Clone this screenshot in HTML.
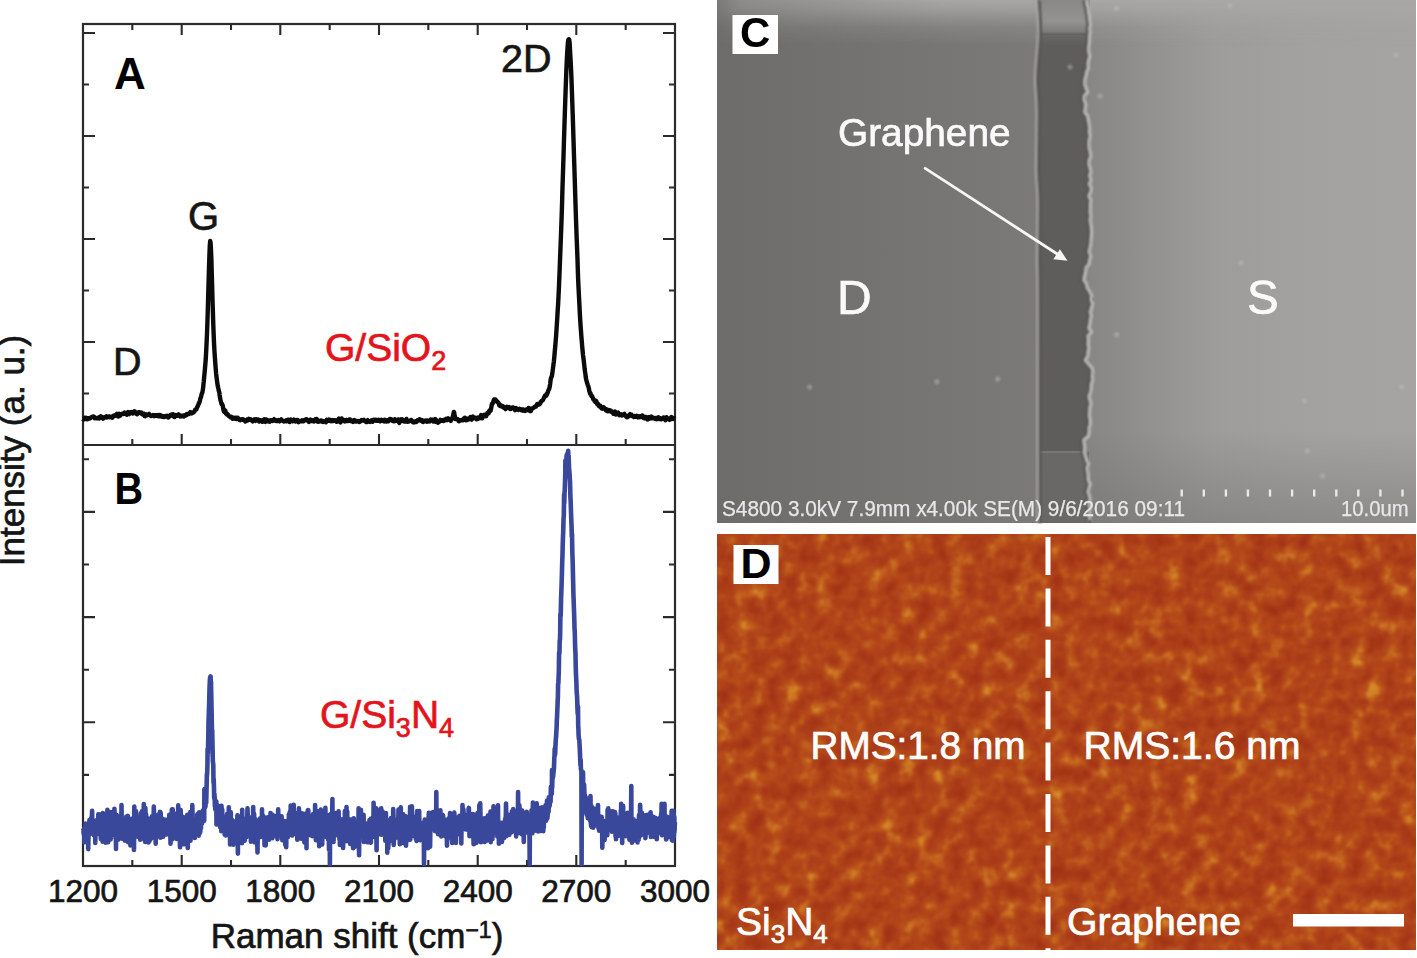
<!DOCTYPE html>
<html><head><meta charset="utf-8">
<style>
html,body{margin:0;padding:0;background:#fff;}
body{width:1417px;height:958px;overflow:hidden;position:relative;}
svg{position:absolute;left:0;top:0;}
text{font-family:"Liberation Sans",sans-serif;}
</style></head><body>
<svg width="1417" height="958" viewBox="0 0 1417 958">
<defs>
<linearGradient id="gD" x1="717" x2="1039" y1="0" y2="0" gradientUnits="userSpaceOnUse">
<stop offset="0" stop-color="#6d6c6a"/><stop offset="1" stop-color="#7c7a79"/></linearGradient>
<linearGradient id="gS" x1="1075" x2="1416" y1="0" y2="0" gradientUnits="userSpaceOnUse">
<stop offset="0" stop-color="#858482"/><stop offset="0.4" stop-color="#9d9c9a"/><stop offset="0.7" stop-color="#a3a2a0"/><stop offset="1" stop-color="#a5a4a2"/></linearGradient>
<linearGradient id="gTop" x1="0" x2="0" y1="0" y2="46" gradientUnits="userSpaceOnUse">
<stop offset="0" stop-color="#a8a7a5" stop-opacity="1"/><stop offset="0.2" stop-color="#a8a7a5" stop-opacity="0.8"/><stop offset="0.6" stop-color="#a6a5a3" stop-opacity="0.25"/><stop offset="1" stop-color="#a6a5a3" stop-opacity="0"/></linearGradient>
<linearGradient id="gBot" x1="0" x2="0" y1="430" y2="523" gradientUnits="userSpaceOnUse">
<stop offset="0" stop-color="#6f6d6b" stop-opacity="0"/><stop offset="1" stop-color="#6f6d6b" stop-opacity="0.45"/></linearGradient>
<linearGradient id="gTopX" x1="717" x2="950" y1="0" y2="0" gradientUnits="userSpaceOnUse">
<stop offset="0" stop-color="#fff" stop-opacity="0.25"/><stop offset="0.1" stop-color="#fff" stop-opacity="0.55"/><stop offset="1" stop-color="#fff" stop-opacity="1"/></linearGradient>
<mask id="mTop" maskUnits="userSpaceOnUse" x="717" y="0" width="699" height="60"><rect x="717" y="0" width="699" height="60" fill="url(#gTopX)"/></mask>
<linearGradient id="gChTop" x1="0" x2="0" y1="0" y2="35" gradientUnits="userSpaceOnUse">
<stop offset="0" stop-color="#8a8886"/><stop offset="0.6" stop-color="#959391"/><stop offset="0.9" stop-color="#7f7d7b"/><stop offset="1" stop-color="#5f5d5b"/></linearGradient>
<filter id="afm" x="707" y="524" width="719" height="436" filterUnits="userSpaceOnUse" color-interpolation-filters="sRGB">

<feTurbulence type="fractalNoise" baseFrequency="0.06" numOctaves="3" seed="9" result="t"/>
<feColorMatrix in="t" type="matrix" values="0.7 0.3 0 0 0  0.7 0.3 0 0 0  0.7 0.3 0 0 0  0 0 0 0 1" result="g"/>
<feComponentTransfer in="g">
<feFuncR type="table" tableValues="0.62 0.62 0.63 0.65 0.68 0.71 0.76 0.83 0.86 0.86"/>
<feFuncG type="table" tableValues="0.19 0.19 0.20 0.22 0.25 0.29 0.38 0.52 0.58 0.58"/>
<feFuncB type="table" tableValues="0.08 0.08 0.08 0.09 0.10 0.10 0.12 0.15 0.16 0.16"/>
</feComponentTransfer>
<feGaussianBlur stdDeviation="1.3"/>
</filter>
<clipPath id="afmclip"><rect x="717" y="534" width="699" height="416"/></clipPath>
<filter id="soft" x="-5%" y="-5%" width="110%" height="110%"><feGaussianBlur stdDeviation="0.8"/></filter>
</defs>

<!-- ===== Raman plots ===== -->
<g fill="none" stroke="#2b2b2b" stroke-width="2.2">
<rect x="83.0" y="24" width="592.0" height="842"/>
<path d="M83.0 445H675.0"/>
<path d="M132.3 24.0v6.0 M132.3 445.0v-6.0 M132.3 866.0v-6.0 M181.7 24.0v11.0 M181.7 445.0v-11.0 M181.7 866.0v-11.0 M231.0 24.0v6.0 M231.0 445.0v-6.0 M231.0 866.0v-6.0 M280.3 24.0v11.0 M280.3 445.0v-11.0 M280.3 866.0v-11.0 M329.7 24.0v6.0 M329.7 445.0v-6.0 M329.7 866.0v-6.0 M379.0 24.0v11.0 M379.0 445.0v-11.0 M379.0 866.0v-11.0 M428.3 24.0v6.0 M428.3 445.0v-6.0 M428.3 866.0v-6.0 M477.7 24.0v11.0 M477.7 445.0v-11.0 M477.7 866.0v-11.0 M527.0 24.0v6.0 M527.0 445.0v-6.0 M527.0 866.0v-6.0 M576.3 24.0v11.0 M576.3 445.0v-11.0 M576.3 866.0v-11.0 M625.7 24.0v6.0 M625.7 445.0v-6.0 M625.7 866.0v-6.0 M83.0 33.0h12.0 M675.0 33.0h-12.0 M83.0 84.5h6.0 M675.0 84.5h-6.0 M83.0 136.0h12.0 M675.0 136.0h-12.0 M83.0 187.5h6.0 M675.0 187.5h-6.0 M83.0 239.0h12.0 M675.0 239.0h-12.0 M83.0 290.5h6.0 M675.0 290.5h-6.0 M83.0 342.0h12.0 M675.0 342.0h-12.0 M83.0 393.5h6.0 M675.0 393.5h-6.0 M83.0 459.3h6.0 M675.0 459.3h-6.0 M83.0 511.9h12.0 M675.0 511.9h-12.0 M83.0 564.5h6.0 M675.0 564.5h-6.0 M83.0 617.1h12.0 M675.0 617.1h-12.0 M83.0 669.7h6.0 M675.0 669.7h-6.0 M83.0 722.3h12.0 M675.0 722.3h-12.0 M83.0 774.9h6.0 M675.0 774.9h-6.0 M83.0 827.5h12.0 M675.0 827.5h-12.0" stroke-width="2.1"/>
</g>
<path d="M83.0 419.0 L83.4 419.5 L83.8 419.3 L84.2 418.5 L84.6 417.7 L85.0 418.2 L85.4 418.3 L85.8 418.8 L86.2 417.8 L86.6 418.5 L86.9 418.1 L87.3 419.2 L87.7 418.4 L88.1 418.3 L88.5 418.2 L88.9 418.6 L89.3 418.6 L89.7 418.4 L90.1 418.3 L90.5 418.0 L90.9 417.4 L91.3 417.2 L91.7 417.3 L92.1 417.1 L92.5 416.6 L92.9 416.6 L93.3 416.9 L93.7 416.6 L94.1 416.8 L94.5 417.7 L94.8 418.3 L95.2 417.9 L95.6 417.7 L96.0 418.1 L96.4 418.2 L96.8 418.3 L97.2 418.4 L97.6 418.4 L98.0 417.8 L98.4 417.5 L98.8 417.7 L99.2 418.5 L99.6 417.7 L100.0 417.3 L100.4 416.4 L100.8 416.2 L101.2 416.5 L101.6 417.1 L102.0 417.5 L102.4 418.0 L102.7 418.1 L103.1 418.7 L103.5 418.2 L103.9 418.2 L104.3 417.3 L104.7 417.4 L105.1 417.2 L105.5 417.0 L105.9 416.8 L106.3 416.4 L106.7 417.4 L107.1 417.1 L107.5 417.1 L107.9 416.9 L108.3 416.6 L108.7 416.8 L109.1 416.6 L109.5 417.1 L109.9 416.6 L110.3 417.0 L110.6 417.0 L111.0 417.1 L111.4 416.8 L111.8 417.0 L112.2 417.8 L112.6 416.8 L113.0 416.5 L113.4 415.9 L113.8 416.4 L114.2 415.5 L114.6 415.8 L115.0 415.2 L115.4 415.8 L115.8 415.7 L116.2 415.5 L116.6 415.0 L117.0 413.8 L117.4 414.5 L117.8 415.2 L118.1 416.6 L118.5 415.6 L118.9 414.6 L119.3 413.9 L119.7 415.3 L120.1 415.6 L120.5 414.9 L120.9 414.3 L121.3 414.0 L121.7 414.1 L122.1 413.6 L122.5 413.7 L122.9 413.8 L123.3 414.0 L123.7 413.7 L124.1 412.9 L124.5 412.6 L124.9 413.2 L125.3 413.6 L125.7 413.1 L126.0 413.1 L126.4 413.3 L126.8 414.8 L127.2 414.2 L127.6 413.7 L128.0 412.1 L128.4 412.6 L128.8 413.9 L129.2 414.1 L129.6 413.2 L130.0 412.3 L130.4 412.3 L130.8 412.4 L131.2 412.0 L131.6 412.4 L132.0 413.0 L132.4 413.2 L132.8 413.5 L133.2 412.8 L133.6 413.0 L133.9 411.6 L134.3 411.2 L134.7 411.4 L135.1 412.1 L135.5 413.0 L135.9 413.0 L136.3 413.8 L136.7 414.0 L137.1 414.2 L137.5 413.6 L137.9 413.0 L138.3 412.3 L138.7 412.2 L139.1 412.1 L139.5 412.2 L139.9 412.5 L140.3 413.1 L140.7 413.3 L141.1 412.6 L141.4 412.5 L141.8 412.8 L142.2 414.2 L142.6 414.5 L143.0 414.2 L143.4 413.5 L143.8 414.2 L144.2 414.9 L144.6 416.1 L145.0 416.2 L145.4 415.6 L145.8 415.1 L146.2 414.4 L146.6 415.1 L147.0 415.3 L147.4 415.2 L147.8 415.1 L148.2 414.3 L148.6 414.2 L149.0 413.9 L149.3 414.7 L149.7 414.6 L150.1 415.3 L150.5 415.6 L150.9 416.0 L151.3 416.0 L151.7 415.7 L152.1 415.4 L152.5 415.3 L152.9 415.1 L153.3 415.5 L153.7 415.6 L154.1 416.1 L154.5 415.4 L154.9 415.9 L155.3 415.3 L155.7 415.6 L156.1 415.2 L156.5 415.3 L156.9 415.8 L157.2 415.7 L157.6 415.5 L158.0 415.0 L158.4 415.8 L158.8 416.3 L159.2 416.2 L159.6 415.7 L160.0 415.0 L160.4 416.3 L160.8 415.7 L161.2 416.5 L161.6 416.0 L162.0 416.1 L162.4 416.0 L162.8 416.2 L163.2 417.0 L163.6 417.0 L164.0 417.0 L164.4 416.9 L164.8 416.9 L165.1 416.4 L165.5 416.6 L165.9 416.1 L166.3 416.5 L166.7 416.0 L167.1 415.9 L167.5 415.7 L167.9 416.6 L168.3 417.5 L168.7 417.1 L169.1 416.6 L169.5 416.0 L169.9 416.2 L170.3 415.9 L170.7 415.1 L171.1 415.2 L171.5 414.7 L171.9 415.3 L172.3 414.6 L172.6 414.4 L173.0 414.2 L173.4 415.2 L173.8 416.6 L174.2 416.9 L174.6 417.0 L175.0 416.2 L175.4 415.3 L175.8 414.9 L176.2 415.1 L176.6 415.8 L177.0 415.8 L177.4 415.8 L177.8 415.6 L178.2 414.8 L178.6 414.4 L179.0 414.7 L179.4 415.1 L179.8 415.6 L180.2 416.4 L180.5 416.3 L180.9 416.2 L181.3 415.8 L181.7 416.2 L182.1 416.3 L182.5 415.7 L182.9 415.7 L183.3 416.0 L183.7 416.5 L184.1 415.8 L184.5 415.2 L184.9 415.3 L185.3 415.7 L185.7 415.1 L186.1 415.2 L186.5 414.4 L186.9 414.8 L187.3 414.0 L187.7 413.9 L188.1 414.2 L188.4 414.2 L188.8 414.1 L189.2 413.7 L189.6 413.3 L190.0 412.8 L190.4 412.1 L190.8 412.3 L191.2 413.2 L191.6 413.4 L192.0 413.1 L192.4 412.8 L192.8 412.4 L193.2 412.6 L193.6 412.2 L194.0 412.1 L194.4 411.5 L194.8 410.6 L195.2 409.7 L195.6 409.7 L195.9 409.8 L196.3 409.4 L196.7 408.3 L197.1 407.3 L197.5 406.8 L197.9 405.6 L198.3 405.1 L198.7 403.4 L199.1 403.3 L199.5 401.9 L199.9 400.8 L200.3 398.8 L200.7 397.5 L201.1 396.8 L201.5 394.7 L201.9 393.3 L202.3 392.8 L202.7 390.6 L203.1 388.1 L203.5 383.7 L203.8 381.3 L204.2 376.9 L204.6 372.5 L205.0 368.0 L205.4 363.5 L205.8 358.5 L206.2 350.8 L206.6 342.6 L207.0 333.5 L207.4 322.5 L207.8 309.8 L208.2 295.0 L208.6 281.1 L209.0 267.9 L209.4 255.4 L209.8 245.7 L210.2 240.9 L210.6 243.0 L211.0 250.4 L211.4 259.6 L211.7 271.5 L212.1 284.4 L212.5 299.6 L212.9 312.3 L213.3 325.0 L213.7 335.3 L214.1 344.6 L214.5 351.6 L214.9 357.8 L215.3 363.2 L215.7 368.7 L216.1 373.2 L216.5 376.7 L216.9 380.1 L217.3 383.0 L217.7 385.8 L218.1 387.4 L218.5 389.3 L218.9 391.2 L219.3 392.3 L219.6 394.8 L220.0 397.1 L220.4 399.8 L220.8 401.3 L221.2 402.7 L221.6 404.2 L222.0 403.9 L222.4 404.8 L222.8 405.9 L223.2 408.6 L223.6 410.4 L224.0 411.7 L224.4 411.2 L224.8 410.2 L225.2 410.5 L225.6 411.6 L226.0 413.6 L226.4 413.8 L226.8 414.3 L227.1 413.7 L227.5 414.3 L227.9 414.4 L228.3 415.5 L228.7 415.8 L229.1 416.3 L229.5 416.5 L229.9 416.5 L230.3 417.1 L230.7 417.4 L231.1 417.4 L231.5 416.9 L231.9 417.6 L232.3 418.0 L232.7 418.8 L233.1 418.3 L233.5 418.2 L233.9 417.6 L234.3 417.6 L234.7 418.0 L235.0 418.7 L235.4 418.2 L235.8 417.9 L236.2 417.7 L236.6 419.0 L237.0 418.3 L237.4 418.6 L237.8 417.8 L238.2 419.0 L238.6 418.7 L239.0 419.2 L239.4 419.7 L239.8 420.1 L240.2 420.2 L240.6 419.8 L241.0 419.4 L241.4 419.5 L241.8 419.3 L242.2 419.3 L242.6 419.1 L242.9 419.1 L243.3 419.9 L243.7 419.9 L244.1 419.8 L244.5 420.2 L244.9 420.7 L245.3 421.5 L245.7 421.2 L246.1 420.8 L246.5 420.1 L246.9 419.7 L247.3 420.2 L247.7 420.5 L248.1 420.0 L248.5 419.6 L248.9 418.9 L249.3 419.7 L249.7 419.2 L250.1 419.2 L250.5 419.2 L250.8 419.7 L251.2 419.6 L251.6 419.9 L252.0 420.8 L252.4 420.9 L252.8 421.4 L253.2 420.2 L253.6 420.6 L254.0 419.8 L254.4 419.4 L254.8 420.2 L255.2 420.5 L255.6 420.8 L256.0 420.2 L256.4 419.3 L256.8 419.5 L257.2 420.0 L257.6 419.9 L258.0 419.9 L258.3 419.6 L258.7 420.8 L259.1 421.5 L259.5 421.3 L259.9 420.5 L260.3 420.1 L260.7 420.2 L261.1 420.4 L261.5 420.7 L261.9 421.5 L262.3 421.8 L262.7 421.3 L263.1 420.8 L263.5 419.9 L263.9 419.9 L264.3 419.2 L264.7 421.1 L265.1 421.4 L265.5 421.9 L265.9 420.8 L266.2 419.4 L266.6 419.7 L267.0 420.5 L267.4 421.2 L267.8 421.2 L268.2 420.8 L268.6 420.5 L269.0 420.6 L269.4 420.9 L269.8 421.7 L270.2 421.2 L270.6 421.0 L271.0 420.2 L271.4 420.3 L271.8 420.4 L272.2 420.5 L272.6 420.9 L273.0 420.3 L273.4 419.9 L273.8 419.5 L274.1 419.2 L274.5 420.3 L274.9 419.8 L275.3 420.7 L275.7 420.2 L276.1 420.9 L276.5 420.2 L276.9 420.4 L277.3 420.7 L277.7 421.1 L278.1 421.1 L278.5 420.0 L278.9 420.4 L279.3 420.9 L279.7 421.3 L280.1 420.9 L280.5 420.2 L280.9 419.9 L281.3 419.4 L281.6 420.0 L282.0 420.6 L282.4 420.6 L282.8 420.8 L283.2 421.0 L283.6 421.4 L284.0 421.5 L284.4 421.1 L284.8 420.9 L285.2 420.7 L285.6 420.8 L286.0 421.2 L286.4 420.4 L286.8 421.1 L287.2 420.4 L287.6 420.9 L288.0 419.7 L288.4 420.3 L288.8 420.9 L289.2 421.9 L289.5 422.0 L289.9 420.8 L290.3 420.0 L290.7 419.5 L291.1 419.7 L291.5 420.6 L291.9 420.8 L292.3 421.2 L292.7 421.0 L293.1 420.5 L293.5 420.1 L293.9 419.5 L294.3 420.1 L294.7 420.7 L295.1 421.3 L295.5 421.5 L295.9 420.8 L296.3 420.3 L296.7 419.9 L297.1 419.9 L297.4 419.9 L297.8 420.3 L298.2 421.4 L298.6 422.1 L299.0 421.7 L299.4 421.1 L299.8 421.1 L300.2 420.9 L300.6 421.1 L301.0 421.2 L301.4 421.3 L301.8 420.8 L302.2 420.3 L302.6 420.7 L303.0 421.2 L303.4 421.2 L303.8 421.2 L304.2 420.3 L304.6 419.9 L305.0 419.7 L305.3 420.0 L305.7 419.8 L306.1 419.2 L306.5 419.2 L306.9 419.7 L307.3 419.8 L307.7 420.3 L308.1 421.1 L308.5 421.5 L308.9 421.9 L309.3 421.3 L309.7 420.9 L310.1 420.2 L310.5 419.7 L310.9 420.5 L311.3 420.1 L311.7 421.1 L312.1 421.0 L312.5 420.6 L312.8 420.4 L313.2 420.8 L313.6 421.4 L314.0 421.5 L314.4 420.0 L314.8 420.5 L315.2 419.3 L315.6 420.3 L316.0 419.4 L316.4 419.0 L316.8 419.0 L317.2 420.7 L317.6 421.6 L318.0 421.8 L318.4 420.8 L318.8 421.0 L319.2 420.9 L319.6 421.5 L320.0 421.1 L320.4 421.1 L320.7 420.6 L321.1 420.5 L321.5 420.9 L321.9 421.6 L322.3 421.8 L322.7 421.9 L323.1 421.1 L323.5 421.4 L323.9 421.3 L324.3 421.4 L324.7 421.6 L325.1 421.6 L325.5 422.1 L325.9 422.3 L326.3 421.0 L326.7 419.8 L327.1 419.9 L327.5 420.1 L327.9 420.8 L328.3 419.9 L328.6 420.2 L329.0 419.6 L329.4 420.8 L329.8 420.4 L330.2 420.9 L330.6 420.1 L331.0 421.1 L331.4 420.5 L331.8 420.6 L332.2 420.0 L332.6 420.8 L333.0 421.0 L333.4 420.9 L333.8 420.8 L334.2 420.4 L334.6 420.8 L335.0 420.7 L335.4 420.6 L335.8 420.3 L336.2 420.5 L336.5 421.8 L336.9 421.6 L337.3 421.6 L337.7 421.2 L338.1 420.5 L338.5 419.7 L338.9 418.5 L339.3 419.4 L339.7 421.2 L340.1 421.9 L340.5 422.4 L340.9 421.3 L341.3 420.0 L341.7 418.5 L342.1 419.0 L342.5 420.2 L342.9 420.6 L343.3 420.7 L343.7 419.9 L344.0 421.0 L344.4 421.1 L344.8 421.5 L345.2 420.5 L345.6 420.2 L346.0 420.1 L346.4 420.9 L346.8 420.1 L347.2 420.9 L347.6 420.5 L348.0 420.9 L348.4 420.1 L348.8 420.2 L349.2 419.6 L349.6 419.8 L350.0 419.6 L350.4 420.7 L350.8 420.3 L351.2 421.2 L351.6 420.8 L351.9 420.8 L352.3 420.7 L352.7 421.5 L353.1 421.9 L353.5 420.9 L353.9 420.2 L354.3 420.0 L354.7 420.3 L355.1 420.9 L355.5 421.4 L355.9 421.6 L356.3 421.1 L356.7 420.9 L357.1 421.2 L357.5 421.4 L357.9 421.3 L358.3 421.0 L358.7 421.6 L359.1 422.0 L359.5 421.9 L359.8 421.7 L360.2 421.5 L360.6 421.1 L361.0 420.5 L361.4 420.1 L361.8 420.4 L362.2 420.3 L362.6 420.6 L363.0 420.5 L363.4 420.1 L363.8 419.9 L364.2 420.7 L364.6 420.7 L365.0 420.7 L365.4 421.0 L365.8 421.1 L366.2 422.0 L366.6 421.7 L367.0 421.9 L367.3 420.6 L367.7 420.2 L368.1 420.6 L368.5 421.6 L368.9 421.5 L369.3 421.7 L369.7 421.9 L370.1 421.4 L370.5 421.5 L370.9 421.0 L371.3 421.2 L371.7 420.4 L372.1 421.2 L372.5 421.8 L372.9 421.2 L373.3 420.4 L373.7 419.9 L374.1 420.6 L374.5 420.4 L374.9 419.8 L375.2 420.3 L375.6 420.1 L376.0 420.6 L376.4 419.9 L376.8 420.0 L377.2 420.5 L377.6 420.9 L378.0 420.9 L378.4 420.2 L378.8 419.8 L379.2 420.6 L379.6 421.0 L380.0 421.3 L380.4 420.8 L380.8 420.6 L381.2 420.6 L381.6 419.9 L382.0 420.7 L382.4 420.3 L382.8 420.9 L383.1 420.7 L383.5 421.2 L383.9 421.4 L384.3 420.6 L384.7 419.8 L385.1 419.9 L385.5 420.7 L385.9 421.0 L386.3 421.5 L386.7 420.5 L387.1 420.5 L387.5 420.2 L387.9 420.7 L388.3 421.3 L388.7 420.7 L389.1 420.3 L389.5 419.2 L389.9 419.0 L390.3 419.0 L390.7 419.2 L391.0 419.8 L391.4 420.0 L391.8 419.7 L392.2 420.7 L392.6 420.6 L393.0 420.9 L393.4 420.4 L393.8 421.3 L394.2 421.3 L394.6 420.1 L395.0 419.2 L395.4 420.2 L395.8 420.7 L396.2 420.8 L396.6 420.3 L397.0 420.9 L397.4 420.7 L397.8 420.5 L398.2 419.4 L398.5 420.9 L398.9 421.9 L399.3 422.9 L399.7 421.9 L400.1 421.4 L400.5 420.1 L400.9 420.3 L401.3 419.4 L401.7 419.7 L402.1 419.3 L402.5 419.7 L402.9 420.5 L403.3 421.2 L403.7 421.4 L404.1 420.8 L404.5 420.7 L404.9 420.6 L405.3 421.5 L405.7 420.8 L406.1 419.7 L406.4 418.9 L406.8 420.3 L407.2 421.7 L407.6 421.8 L408.0 421.2 L408.4 421.3 L408.8 421.5 L409.2 420.9 L409.6 420.8 L410.0 420.6 L410.4 420.6 L410.8 420.1 L411.2 420.0 L411.6 420.7 L412.0 421.5 L412.4 421.7 L412.8 421.4 L413.2 422.3 L413.6 422.2 L414.0 422.4 L414.3 422.1 L414.7 422.1 L415.1 421.7 L415.5 421.3 L415.9 422.0 L416.3 422.0 L416.7 421.7 L417.1 421.1 L417.5 420.4 L417.9 420.7 L418.3 420.6 L418.7 420.3 L419.1 419.8 L419.5 419.2 L419.9 419.5 L420.3 419.5 L420.7 419.9 L421.1 420.8 L421.5 420.1 L421.8 420.7 L422.2 420.4 L422.6 421.7 L423.0 422.0 L423.4 421.8 L423.8 421.2 L424.2 420.8 L424.6 421.2 L425.0 420.9 L425.4 421.1 L425.8 420.6 L426.2 421.0 L426.6 420.6 L427.0 421.6 L427.4 421.2 L427.8 421.4 L428.2 420.6 L428.6 421.2 L429.0 421.3 L429.4 421.3 L429.7 421.5 L430.1 420.6 L430.5 420.4 L430.9 419.5 L431.3 420.2 L431.7 419.7 L432.1 419.8 L432.5 419.7 L432.9 420.8 L433.3 421.5 L433.7 421.6 L434.1 421.6 L434.5 421.0 L434.9 419.9 L435.3 419.1 L435.7 419.4 L436.1 420.8 L436.5 422.0 L436.9 421.5 L437.3 422.0 L437.6 421.8 L438.0 422.7 L438.4 421.8 L438.8 422.2 L439.2 421.8 L439.6 421.5 L440.0 420.5 L440.4 419.8 L440.8 420.2 L441.2 420.1 L441.6 420.8 L442.0 420.8 L442.4 420.4 L442.8 420.8 L443.2 420.2 L443.6 421.0 L444.0 419.8 L444.4 420.3 L444.8 419.6 L445.2 420.3 L445.5 419.8 L445.9 419.2 L446.3 418.7 L446.7 419.0 L447.1 420.1 L447.5 419.9 L447.9 419.0 L448.3 418.3 L448.7 418.8 L449.1 419.4 L449.5 419.3 L449.9 419.7 L450.3 420.3 L450.7 420.9 L451.1 419.9 L451.5 419.3 L451.9 418.6 L452.3 417.9 L452.7 417.4 L453.0 416.1 L453.4 414.1 L453.8 411.9 L454.2 412.6 L454.6 415.8 L455.0 417.8 L455.4 419.0 L455.8 418.8 L456.2 418.5 L456.6 418.9 L457.0 419.3 L457.4 419.6 L457.8 419.4 L458.2 420.4 L458.6 421.0 L459.0 421.2 L459.4 420.5 L459.8 420.3 L460.2 420.2 L460.6 420.2 L460.9 420.4 L461.3 420.3 L461.7 420.1 L462.1 420.0 L462.5 419.7 L462.9 420.2 L463.3 419.0 L463.7 419.1 L464.1 418.4 L464.5 418.6 L464.9 417.8 L465.3 419.1 L465.7 419.4 L466.1 420.3 L466.5 419.9 L466.9 419.8 L467.3 419.9 L467.7 418.8 L468.1 418.9 L468.5 418.5 L468.8 419.3 L469.2 419.2 L469.6 418.8 L470.0 417.7 L470.4 417.2 L470.8 418.1 L471.2 419.0 L471.6 419.6 L472.0 418.4 L472.4 417.0 L472.8 416.5 L473.2 417.2 L473.6 418.0 L474.0 418.4 L474.4 418.4 L474.8 418.1 L475.2 417.6 L475.6 417.6 L476.0 418.1 L476.4 418.4 L476.7 419.3 L477.1 419.1 L477.5 419.1 L477.9 417.6 L478.3 417.5 L478.7 417.6 L479.1 418.2 L479.5 418.2 L479.9 418.0 L480.3 417.7 L480.7 416.8 L481.1 415.1 L481.5 416.0 L481.9 417.0 L482.3 418.3 L482.7 416.4 L483.1 415.3 L483.5 415.8 L483.9 415.1 L484.2 415.3 L484.6 414.9 L485.0 415.9 L485.4 416.1 L485.8 415.4 L486.2 416.1 L486.6 415.0 L487.0 414.1 L487.4 412.8 L487.8 413.4 L488.2 413.5 L488.6 413.3 L489.0 411.9 L489.4 410.8 L489.8 410.2 L490.2 410.4 L490.6 410.7 L491.0 409.0 L491.4 406.9 L491.8 404.7 L492.1 403.7 L492.5 403.4 L492.9 403.1 L493.3 401.6 L493.7 400.5 L494.1 399.6 L494.5 399.8 L494.9 399.4 L495.3 399.4 L495.7 399.8 L496.1 400.3 L496.5 401.0 L496.9 401.1 L497.3 401.9 L497.7 402.4 L498.1 402.5 L498.5 403.1 L498.9 403.6 L499.3 405.4 L499.7 405.5 L500.0 405.9 L500.4 405.9 L500.8 406.2 L501.2 406.3 L501.6 405.6 L502.0 406.5 L502.4 406.2 L502.8 406.9 L503.2 406.4 L503.6 407.3 L504.0 407.8 L504.4 407.9 L504.8 408.3 L505.2 408.2 L505.6 409.1 L506.0 408.2 L506.4 408.1 L506.8 406.8 L507.2 407.0 L507.5 407.0 L507.9 407.8 L508.3 407.8 L508.7 407.4 L509.1 407.1 L509.5 407.7 L509.9 408.9 L510.3 409.1 L510.7 409.1 L511.1 408.1 L511.5 407.9 L511.9 407.8 L512.3 407.4 L512.7 407.4 L513.1 407.5 L513.5 408.1 L513.9 408.0 L514.3 408.9 L514.7 409.4 L515.1 410.1 L515.4 409.2 L515.8 408.6 L516.2 408.1 L516.6 408.6 L517.0 409.0 L517.4 409.1 L517.8 409.5 L518.2 409.9 L518.6 409.6 L519.0 409.1 L519.4 408.8 L519.8 409.4 L520.2 409.1 L520.6 409.4 L521.0 409.6 L521.4 410.2 L521.8 409.9 L522.2 409.4 L522.6 409.5 L523.0 410.1 L523.3 410.7 L523.7 410.6 L524.1 409.8 L524.5 410.0 L524.9 410.2 L525.3 410.9 L525.7 410.4 L526.1 409.8 L526.5 409.4 L526.9 409.3 L527.3 410.1 L527.7 410.2 L528.1 408.7 L528.5 408.0 L528.9 408.0 L529.3 409.8 L529.7 410.1 L530.1 410.9 L530.5 410.8 L530.9 411.0 L531.2 410.2 L531.6 408.8 L532.0 408.5 L532.4 408.2 L532.8 408.4 L533.2 408.1 L533.6 407.8 L534.0 407.6 L534.4 407.1 L534.8 406.6 L535.2 406.7 L535.6 406.4 L536.0 406.5 L536.4 405.3 L536.8 405.1 L537.2 403.9 L537.6 404.2 L538.0 404.2 L538.4 404.7 L538.7 404.5 L539.1 404.0 L539.5 404.3 L539.9 403.5 L540.3 403.5 L540.7 401.8 L541.1 401.7 L541.5 400.9 L541.9 400.8 L542.3 400.6 L542.7 400.4 L543.1 399.7 L543.5 399.0 L543.9 398.0 L544.3 397.1 L544.7 396.4 L545.1 395.6 L545.5 396.3 L545.9 395.3 L546.3 395.6 L546.6 394.0 L547.0 394.4 L547.4 392.9 L547.8 392.4 L548.2 390.8 L548.6 389.9 L549.0 389.1 L549.4 388.1 L549.8 386.2 L550.2 383.5 L550.6 379.9 L551.0 378.1 L551.4 377.1 L551.8 376.3 L552.2 374.2 L552.6 371.2 L553.0 368.1 L553.4 364.9 L553.8 362.0 L554.2 358.1 L554.5 354.7 L554.9 349.8 L555.3 346.1 L555.7 340.7 L556.1 335.9 L556.5 329.9 L556.9 323.7 L557.3 317.3 L557.7 310.3 L558.1 304.5 L558.5 296.5 L558.9 288.3 L559.3 278.2 L559.7 268.5 L560.1 257.9 L560.5 247.6 L560.9 237.4 L561.3 226.6 L561.7 215.0 L562.1 202.3 L562.4 190.6 L562.8 178.1 L563.2 166.0 L563.6 153.2 L564.0 139.8 L564.4 127.2 L564.8 114.2 L565.2 102.5 L565.6 90.8 L566.0 80.0 L566.4 69.4 L566.8 60.6 L567.2 52.7 L567.6 46.9 L568.0 41.7 L568.4 39.8 L568.8 39.2 L569.2 39.6 L569.6 42.3 L569.9 47.6 L570.3 55.4 L570.7 62.3 L571.1 70.2 L571.5 79.5 L571.9 91.0 L572.3 102.6 L572.7 114.0 L573.1 126.6 L573.5 139.6 L573.9 152.5 L574.3 165.0 L574.7 177.7 L575.1 190.9 L575.5 203.7 L575.9 216.0 L576.3 227.9 L576.7 238.9 L577.1 248.8 L577.5 259.2 L577.8 269.8 L578.2 280.6 L578.6 289.2 L579.0 297.0 L579.4 304.7 L579.8 312.8 L580.2 319.9 L580.6 326.0 L581.0 331.1 L581.4 336.9 L581.8 341.4 L582.2 346.5 L582.6 350.7 L583.0 355.0 L583.4 357.9 L583.8 361.1 L584.2 364.7 L584.6 368.6 L585.0 371.5 L585.4 374.0 L585.7 376.7 L586.1 379.3 L586.5 380.8 L586.9 382.3 L587.3 383.4 L587.7 384.9 L588.1 385.7 L588.5 387.1 L588.9 388.4 L589.3 391.1 L589.7 392.2 L590.1 393.5 L590.5 393.3 L590.9 395.0 L591.3 395.5 L591.7 396.4 L592.1 396.0 L592.5 397.1 L592.9 397.8 L593.2 399.2 L593.6 399.3 L594.0 399.8 L594.4 400.6 L594.8 401.5 L595.2 402.0 L595.6 401.3 L596.0 400.9 L596.4 401.4 L596.8 402.7 L597.2 404.0 L597.6 403.6 L598.0 403.6 L598.4 404.2 L598.8 405.8 L599.2 406.4 L599.6 406.6 L600.0 406.6 L600.4 405.8 L600.8 406.7 L601.1 406.9 L601.5 408.4 L601.9 408.6 L602.3 408.7 L602.7 408.4 L603.1 407.8 L603.5 407.2 L603.9 407.5 L604.3 408.1 L604.7 408.8 L605.1 409.4 L605.5 409.5 L605.9 410.4 L606.3 409.9 L606.7 409.3 L607.1 409.6 L607.5 410.4 L607.9 411.3 L608.3 410.9 L608.7 410.7 L609.0 410.8 L609.4 411.0 L609.8 410.3 L610.2 410.9 L610.6 410.6 L611.0 411.5 L611.4 411.1 L611.8 412.0 L612.2 411.6 L612.6 412.4 L613.0 412.7 L613.4 413.8 L613.8 413.9 L614.2 413.4 L614.6 411.8 L615.0 411.5 L615.4 412.6 L615.8 414.5 L616.2 414.3 L616.6 413.7 L616.9 413.5 L617.3 413.0 L617.7 412.8 L618.1 412.5 L618.5 414.1 L618.9 414.2 L619.3 415.2 L619.7 414.6 L620.1 414.3 L620.5 414.6 L620.9 414.3 L621.3 415.3 L621.7 415.2 L622.1 415.5 L622.5 414.7 L622.9 414.5 L623.3 414.8 L623.7 414.9 L624.1 414.1 L624.4 413.9 L624.8 414.9 L625.2 415.3 L625.6 415.9 L626.0 416.2 L626.4 416.9 L626.8 417.3 L627.2 417.2 L627.6 416.0 L628.0 416.0 L628.4 415.6 L628.8 416.3 L629.2 415.4 L629.6 414.6 L630.0 414.2 L630.4 414.7 L630.8 415.0 L631.2 415.1 L631.6 414.9 L632.0 415.8 L632.3 416.1 L632.7 416.3 L633.1 416.6 L633.5 416.7 L633.9 417.0 L634.3 416.0 L634.7 416.4 L635.1 416.2 L635.5 416.8 L635.9 416.5 L636.3 416.0 L636.7 415.8 L637.1 415.9 L637.5 416.8 L637.9 417.4 L638.3 417.1 L638.7 416.9 L639.1 416.4 L639.5 417.1 L639.9 416.7 L640.2 416.3 L640.6 416.6 L641.0 417.0 L641.4 417.1 L641.8 415.9 L642.2 415.5 L642.6 415.6 L643.0 416.3 L643.4 416.8 L643.8 418.0 L644.2 418.0 L644.6 418.4 L645.0 418.3 L645.4 418.2 L645.8 417.0 L646.2 416.9 L646.6 417.3 L647.0 419.1 L647.4 419.4 L647.7 419.5 L648.1 419.2 L648.5 418.2 L648.9 417.9 L649.3 417.1 L649.7 418.4 L650.1 418.5 L650.5 417.4 L650.9 417.2 L651.3 416.6 L651.7 418.3 L652.1 417.5 L652.5 418.0 L652.9 418.0 L653.3 418.3 L653.7 417.8 L654.1 418.2 L654.5 418.3 L654.9 418.7 L655.3 418.4 L655.6 418.1 L656.0 418.9 L656.4 418.7 L656.8 419.1 L657.2 418.5 L657.6 418.0 L658.0 417.4 L658.4 417.3 L658.8 417.9 L659.2 419.0 L659.6 419.1 L660.0 418.5 L660.4 418.2 L660.8 418.4 L661.2 419.3 L661.6 419.2 L662.0 418.4 L662.4 418.5 L662.8 418.0 L663.2 418.8 L663.5 417.6 L663.9 418.3 L664.3 417.7 L664.7 418.9 L665.1 419.4 L665.5 420.2 L665.9 419.3 L666.3 418.1 L666.7 417.2 L667.1 418.1 L667.5 418.6 L667.9 419.1 L668.3 419.0 L668.7 419.1 L669.1 419.3 L669.5 419.9 L669.9 419.7 L670.3 419.5 L670.7 418.0 L671.1 417.4 L671.4 417.0 L671.8 417.3 L672.2 418.0 L672.6 418.8 L673.0 419.1 L673.4 418.8 L673.8 418.2 L674.2 418.4 L674.6 418.4 L675.0 418.7" fill="none" stroke="#0b0b0b" stroke-width="4.4" stroke-linejoin="round"/>
<path d="M83.0 830.9 L83.2 830.4 L83.5 830.7 L83.7 833.9 L83.9 829.1 L84.1 830.0 L84.4 842.2 L84.6 828.4 L84.8 835.3 L85.1 829.4 L85.3 825.3 L85.5 825.9 L85.7 823.5 L86.0 830.7 L86.2 826.1 L86.4 827.7 L86.6 840.3 L86.9 829.7 L87.1 838.4 L87.3 831.5 L87.6 836.6 L87.8 825.5 L88.0 829.8 L88.2 849.1 L88.5 835.6 L88.7 836.0 L88.9 830.1 L89.2 834.8 L89.4 820.0 L89.6 821.8 L89.8 831.1 L90.1 833.9 L90.3 824.8 L90.5 826.4 L90.7 824.9 L91.0 826.2 L91.2 818.6 L91.4 817.5 L91.7 827.6 L91.9 816.0 L92.1 810.8 L92.3 824.8 L92.6 821.9 L92.8 832.9 L93.0 826.8 L93.3 829.3 L93.5 822.7 L93.7 825.4 L93.9 835.2 L94.2 834.0 L94.4 827.8 L94.6 834.3 L94.8 833.5 L95.1 832.8 L95.3 842.9 L95.5 827.0 L95.8 833.6 L96.0 833.1 L96.2 827.9 L96.4 820.2 L96.7 834.4 L96.9 830.3 L97.1 828.4 L97.4 827.4 L97.6 827.5 L97.8 821.2 L98.0 831.2 L98.3 814.3 L98.5 826.2 L98.7 815.3 L98.9 823.9 L99.2 831.2 L99.4 814.4 L99.6 823.0 L99.9 830.9 L100.1 825.4 L100.3 824.1 L100.5 823.3 L100.8 838.9 L101.0 832.4 L101.2 826.9 L101.5 818.8 L101.7 832.7 L101.9 818.0 L102.1 831.7 L102.4 819.0 L102.6 841.8 L102.8 813.1 L103.0 836.3 L103.3 833.9 L103.5 813.7 L103.7 825.8 L104.0 839.9 L104.2 837.3 L104.4 815.0 L104.6 823.6 L104.9 819.1 L105.1 820.6 L105.3 816.5 L105.6 842.6 L105.8 829.3 L106.0 826.0 L106.2 825.4 L106.5 833.0 L106.7 833.9 L106.9 821.9 L107.1 840.4 L107.4 809.8 L107.6 827.9 L107.8 832.6 L108.1 842.1 L108.3 827.4 L108.5 825.9 L108.7 838.5 L109.0 833.1 L109.2 837.3 L109.4 835.7 L109.7 829.0 L109.9 831.5 L110.1 833.3 L110.3 826.8 L110.6 839.4 L110.8 812.1 L111.0 820.2 L111.2 837.9 L111.5 830.0 L111.7 823.0 L111.9 829.4 L112.2 835.0 L112.4 822.4 L112.6 832.9 L112.8 826.1 L113.1 824.9 L113.3 824.8 L113.5 834.1 L113.8 817.3 L114.0 823.4 L114.2 831.3 L114.4 808.7 L114.7 815.5 L114.9 831.5 L115.1 826.3 L115.3 825.0 L115.6 828.1 L115.8 819.5 L116.0 849.0 L116.3 818.4 L116.5 821.7 L116.7 815.1 L116.9 822.8 L117.2 837.3 L117.4 825.5 L117.6 830.0 L117.9 821.7 L118.1 839.7 L118.3 826.9 L118.5 816.3 L118.8 831.8 L119.0 824.4 L119.2 831.0 L119.4 828.3 L119.7 829.2 L119.9 821.2 L120.1 820.9 L120.4 816.2 L120.6 834.6 L120.8 826.7 L121.0 831.7 L121.3 825.3 L121.5 805.1 L121.7 818.2 L122.0 838.7 L122.2 823.1 L122.4 826.4 L122.6 819.3 L122.9 825.6 L123.1 827.3 L123.3 828.5 L123.5 829.1 L123.8 823.9 L124.0 824.0 L124.2 828.0 L124.5 830.2 L124.7 825.9 L124.9 840.8 L125.1 828.7 L125.4 828.7 L125.6 823.5 L125.8 835.5 L126.1 820.5 L126.3 816.5 L126.5 821.8 L126.7 834.0 L127.0 819.8 L127.2 838.8 L127.4 828.6 L127.6 817.9 L127.9 815.9 L128.1 842.2 L128.3 823.0 L128.6 819.5 L128.8 833.3 L129.0 839.4 L129.2 837.8 L129.5 828.3 L129.7 831.6 L129.9 832.9 L130.2 839.6 L130.4 845.5 L130.6 827.6 L130.8 838.3 L131.1 825.6 L131.3 832.6 L131.5 820.9 L131.7 821.8 L132.0 829.1 L132.2 818.5 L132.4 831.7 L132.7 821.2 L132.9 826.8 L133.1 825.1 L133.3 823.0 L133.6 827.0 L133.8 833.8 L134.0 849.9 L134.3 806.5 L134.5 828.2 L134.7 824.1 L134.9 818.8 L135.2 828.1 L135.4 819.2 L135.6 825.4 L135.8 836.3 L136.1 811.3 L136.3 828.9 L136.5 830.6 L136.8 821.6 L137.0 832.7 L137.2 831.3 L137.4 825.8 L137.7 836.7 L137.9 817.5 L138.1 832.6 L138.4 818.0 L138.6 820.2 L138.8 826.2 L139.0 825.3 L139.3 834.2 L139.5 816.8 L139.7 826.5 L139.9 824.3 L140.2 839.7 L140.4 818.7 L140.6 834.1 L140.9 813.2 L141.1 828.5 L141.3 825.8 L141.5 828.6 L141.8 820.7 L142.0 811.3 L142.2 814.1 L142.5 835.3 L142.7 826.7 L142.9 818.2 L143.1 831.5 L143.4 818.3 L143.6 817.4 L143.8 804.1 L144.0 833.2 L144.3 839.5 L144.5 817.4 L144.7 827.1 L145.0 832.5 L145.2 841.9 L145.4 808.1 L145.6 827.4 L145.9 831.1 L146.1 814.4 L146.3 829.3 L146.6 826.9 L146.8 830.9 L147.0 821.6 L147.2 830.3 L147.5 823.0 L147.7 832.8 L147.9 829.7 L148.1 825.2 L148.4 818.5 L148.6 842.5 L148.8 837.4 L149.1 835.9 L149.3 823.7 L149.5 825.6 L149.7 840.7 L150.0 832.8 L150.2 821.4 L150.4 828.0 L150.7 828.9 L150.9 826.2 L151.1 821.0 L151.3 838.6 L151.6 833.3 L151.8 827.3 L152.0 816.3 L152.2 823.8 L152.5 828.1 L152.7 834.8 L152.9 825.6 L153.2 836.5 L153.4 827.6 L153.6 821.7 L153.8 806.6 L154.1 818.9 L154.3 816.3 L154.5 826.5 L154.8 830.0 L155.0 836.7 L155.2 825.9 L155.4 817.4 L155.7 843.7 L155.9 828.1 L156.1 823.8 L156.3 823.7 L156.6 815.5 L156.8 830.4 L157.0 821.1 L157.3 836.4 L157.5 832.8 L157.7 831.1 L157.9 833.8 L158.2 822.8 L158.4 821.1 L158.6 814.3 L158.9 814.6 L159.1 823.4 L159.3 822.5 L159.5 825.1 L159.8 827.0 L160.0 811.8 L160.2 827.0 L160.4 837.6 L160.7 812.8 L160.9 821.1 L161.1 827.6 L161.4 817.8 L161.6 824.3 L161.8 829.4 L162.0 818.8 L162.3 830.5 L162.5 831.4 L162.7 819.7 L163.0 829.0 L163.2 836.6 L163.4 827.3 L163.6 831.2 L163.9 832.7 L164.1 825.0 L164.3 833.9 L164.5 828.9 L164.8 819.5 L165.0 830.8 L165.2 822.6 L165.5 832.5 L165.7 820.5 L165.9 828.6 L166.1 834.5 L166.4 825.9 L166.6 832.9 L166.8 834.4 L167.1 824.9 L167.3 830.0 L167.5 821.5 L167.7 831.6 L168.0 823.4 L168.2 819.2 L168.4 823.2 L168.6 823.6 L168.9 827.8 L169.1 827.7 L169.3 814.9 L169.6 819.0 L169.8 826.2 L170.0 826.9 L170.2 823.4 L170.5 843.6 L170.7 831.4 L170.9 822.8 L171.2 828.8 L171.4 833.6 L171.6 826.1 L171.8 809.5 L172.1 823.0 L172.3 823.2 L172.5 839.2 L172.7 809.4 L173.0 835.4 L173.2 822.8 L173.4 830.9 L173.7 821.0 L173.9 825.3 L174.1 833.2 L174.3 818.3 L174.6 832.0 L174.8 824.6 L175.0 822.4 L175.3 823.7 L175.5 822.1 L175.7 824.7 L175.9 836.4 L176.2 817.1 L176.4 813.6 L176.6 826.6 L176.8 838.9 L177.1 834.3 L177.3 836.8 L177.5 835.7 L177.8 820.2 L178.0 826.1 L178.2 805.4 L178.4 821.8 L178.7 830.8 L178.9 814.2 L179.1 811.1 L179.4 817.3 L179.6 828.3 L179.8 836.0 L180.0 847.3 L180.3 839.2 L180.5 816.8 L180.7 810.0 L180.9 828.3 L181.2 835.5 L181.4 815.6 L181.6 824.6 L181.9 824.6 L182.1 822.5 L182.3 826.9 L182.5 832.9 L182.8 837.6 L183.0 830.1 L183.2 835.2 L183.5 844.3 L183.7 822.3 L183.9 817.2 L184.1 833.4 L184.4 844.2 L184.6 830.4 L184.8 836.9 L185.0 825.6 L185.3 835.5 L185.5 824.7 L185.7 834.4 L186.0 831.9 L186.2 820.3 L186.4 828.5 L186.6 836.2 L186.9 823.8 L187.1 834.6 L187.3 814.7 L187.6 834.7 L187.8 848.0 L188.0 831.7 L188.2 831.7 L188.5 827.8 L188.7 832.6 L188.9 823.0 L189.1 830.6 L189.4 823.7 L189.6 822.4 L189.8 826.7 L190.1 824.9 L190.3 812.1 L190.5 840.6 L190.7 826.8 L191.0 813.9 L191.2 835.1 L191.4 827.2 L191.7 829.4 L191.9 832.5 L192.1 820.5 L192.3 805.0 L192.6 815.7 L192.8 827.6 L193.0 832.9 L193.2 820.2 L193.5 824.5 L193.7 829.2 L193.9 824.6 L194.2 825.2 L194.4 828.9 L194.6 819.1 L194.8 837.9 L195.1 819.0 L195.3 826.4 L195.5 823.0 L195.8 819.3 L196.0 828.7 L196.2 832.1 L196.4 834.2 L196.7 828.2 L196.9 820.9 L197.1 830.6 L197.3 814.4 L197.6 824.9 L197.8 828.0 L198.0 828.5 L198.3 816.5 L198.5 813.4 L198.7 835.6 L198.9 820.0 L199.2 812.2 L199.4 815.9 L199.6 825.6 L199.9 833.0 L200.1 824.4 L200.3 831.9 L200.5 824.4 L200.8 825.2 L201.0 828.5 L201.2 818.3 L201.4 822.5 L201.7 816.5 L201.9 815.2 L202.1 823.1 L202.4 812.3 L202.6 817.8 L202.8 810.5 L203.0 814.5 L203.3 811.3 L203.5 821.0 L203.7 812.7 L204.0 811.3 L204.2 820.8 L204.4 789.3 L204.6 800.4 L204.9 788.8 L205.1 805.9 L205.3 807.1 L205.5 805.9 L205.8 800.3 L206.0 792.2 L206.2 803.0 L206.5 791.1 L206.7 782.7 L206.9 774.0 L207.1 775.0 L207.4 766.1 L207.6 748.8 L207.8 754.9 L208.1 746.0 L208.3 736.2 L208.5 721.6 L208.7 717.8 L209.0 708.3 L209.2 701.9 L209.4 692.9 L209.6 686.4 L209.9 679.7 L210.1 677.7 L210.3 676.9 L210.6 676.4 L210.8 684.6 L211.0 681.6 L211.2 691.2 L211.5 707.2 L211.7 715.2 L211.9 729.3 L212.2 730.1 L212.4 739.6 L212.6 749.4 L212.8 760.8 L213.1 763.4 L213.3 764.9 L213.5 782.6 L213.7 778.7 L214.0 788.0 L214.2 798.3 L214.4 793.9 L214.7 798.3 L214.9 806.4 L215.1 804.6 L215.3 809.3 L215.6 802.4 L215.8 808.5 L216.0 803.6 L216.3 801.3 L216.5 824.4 L216.7 817.2 L216.9 821.8 L217.2 809.6 L217.4 816.4 L217.6 816.6 L217.8 807.7 L218.1 821.6 L218.3 812.3 L218.5 810.4 L218.8 806.0 L219.0 823.8 L219.2 821.4 L219.4 820.2 L219.7 811.1 L219.9 813.2 L220.1 827.1 L220.4 817.3 L220.6 821.5 L220.8 821.3 L221.0 812.1 L221.3 831.3 L221.5 805.7 L221.7 821.0 L221.9 820.6 L222.2 809.2 L222.4 823.1 L222.6 824.9 L222.9 822.0 L223.1 816.2 L223.3 826.2 L223.5 831.0 L223.8 825.7 L224.0 831.5 L224.2 829.2 L224.5 823.3 L224.7 834.6 L224.9 819.1 L225.1 819.8 L225.4 828.1 L225.6 827.4 L225.8 835.5 L226.0 832.8 L226.3 825.3 L226.5 825.6 L226.7 820.5 L227.0 820.7 L227.2 813.7 L227.4 831.1 L227.6 821.1 L227.9 821.7 L228.1 825.2 L228.3 820.9 L228.6 822.0 L228.8 807.2 L229.0 827.8 L229.2 822.7 L229.5 825.6 L229.7 827.9 L229.9 811.8 L230.1 844.4 L230.4 827.4 L230.6 827.3 L230.8 812.4 L231.1 830.8 L231.3 829.2 L231.5 824.5 L231.7 828.6 L232.0 836.6 L232.2 823.6 L232.4 820.1 L232.7 837.3 L232.9 829.5 L233.1 825.5 L233.3 844.8 L233.6 829.1 L233.8 825.1 L234.0 829.0 L234.2 824.8 L234.5 828.5 L234.7 827.8 L234.9 821.5 L235.2 825.6 L235.4 830.2 L235.6 831.2 L235.8 832.9 L236.1 835.8 L236.3 830.8 L236.5 833.0 L236.8 826.6 L237.0 828.1 L237.2 837.7 L237.4 815.2 L237.7 832.0 L237.9 853.6 L238.1 816.1 L238.3 842.0 L238.6 817.9 L238.8 833.2 L239.0 842.5 L239.3 842.0 L239.5 824.0 L239.7 821.1 L239.9 820.1 L240.2 836.8 L240.4 828.3 L240.6 831.5 L240.9 833.0 L241.1 835.7 L241.3 836.5 L241.5 833.2 L241.8 821.0 L242.0 843.3 L242.2 809.8 L242.4 841.3 L242.7 828.1 L242.9 831.2 L243.1 828.6 L243.4 830.5 L243.6 832.5 L243.8 831.0 L244.0 824.3 L244.3 838.6 L244.5 827.3 L244.7 840.8 L245.0 828.3 L245.2 823.7 L245.4 832.1 L245.6 835.1 L245.9 819.6 L246.1 824.3 L246.3 837.2 L246.5 818.1 L246.8 820.0 L247.0 829.1 L247.2 818.3 L247.5 808.4 L247.7 814.2 L247.9 829.2 L248.1 830.9 L248.4 830.3 L248.6 828.5 L248.8 817.0 L249.1 831.9 L249.3 836.1 L249.5 822.5 L249.7 828.6 L250.0 826.9 L250.2 831.4 L250.4 832.6 L250.6 819.2 L250.9 841.6 L251.1 823.7 L251.3 829.8 L251.6 825.8 L251.8 833.1 L252.0 832.4 L252.2 829.6 L252.5 839.6 L252.7 831.8 L252.9 826.4 L253.2 807.0 L253.4 827.9 L253.6 827.4 L253.8 823.2 L254.1 813.8 L254.3 833.8 L254.5 836.9 L254.7 842.3 L255.0 837.4 L255.2 823.3 L255.4 830.7 L255.7 819.2 L255.9 835.3 L256.1 832.4 L256.3 825.7 L256.6 828.7 L256.8 827.6 L257.0 824.7 L257.3 840.2 L257.5 852.5 L257.7 835.9 L257.9 838.3 L258.2 830.3 L258.4 826.7 L258.6 836.9 L258.8 826.0 L259.1 831.8 L259.3 827.1 L259.5 833.1 L259.8 827.5 L260.0 832.8 L260.2 818.3 L260.4 826.2 L260.7 836.9 L260.9 818.2 L261.1 820.8 L261.4 836.4 L261.6 829.6 L261.8 834.5 L262.0 809.2 L262.3 827.8 L262.5 816.4 L262.7 816.3 L262.9 830.4 L263.2 835.7 L263.4 816.1 L263.6 818.4 L263.9 822.3 L264.1 826.2 L264.3 817.6 L264.5 845.3 L264.8 831.9 L265.0 825.2 L265.2 824.1 L265.5 845.5 L265.7 845.1 L265.9 824.5 L266.1 831.2 L266.4 838.2 L266.6 819.0 L266.8 824.0 L267.0 838.6 L267.3 822.9 L267.5 823.7 L267.7 817.2 L268.0 821.5 L268.2 832.7 L268.4 821.8 L268.6 818.6 L268.9 823.4 L269.1 839.7 L269.3 827.0 L269.6 821.3 L269.8 826.3 L270.0 829.5 L270.2 827.5 L270.5 813.0 L270.7 828.9 L270.9 826.1 L271.1 833.8 L271.4 817.5 L271.6 835.1 L271.8 822.9 L272.1 814.5 L272.3 838.3 L272.5 822.8 L272.7 829.7 L273.0 825.4 L273.2 834.9 L273.4 834.6 L273.7 834.9 L273.9 832.7 L274.1 815.7 L274.3 815.7 L274.6 830.8 L274.8 820.9 L275.0 832.1 L275.2 829.2 L275.5 816.8 L275.7 818.1 L275.9 817.9 L276.2 820.1 L276.4 825.8 L276.6 822.4 L276.8 837.0 L277.1 818.9 L277.3 822.5 L277.5 839.2 L277.8 834.4 L278.0 829.0 L278.2 809.3 L278.4 819.9 L278.7 821.4 L278.9 822.5 L279.1 830.5 L279.3 827.0 L279.6 828.3 L279.8 816.4 L280.0 817.2 L280.3 821.0 L280.5 821.1 L280.7 824.4 L280.9 829.1 L281.2 828.3 L281.4 834.4 L281.6 816.4 L281.9 829.0 L282.1 829.5 L282.3 840.2 L282.5 825.8 L282.8 830.3 L283.0 820.5 L283.2 829.8 L283.4 829.8 L283.7 822.4 L283.9 824.8 L284.1 828.5 L284.4 833.4 L284.6 821.0 L284.8 836.6 L285.0 828.0 L285.3 845.0 L285.5 840.5 L285.7 825.8 L286.0 823.2 L286.2 847.3 L286.4 833.2 L286.6 832.6 L286.9 824.6 L287.1 826.3 L287.3 834.5 L287.5 832.6 L287.8 821.6 L288.0 837.0 L288.2 829.3 L288.5 819.4 L288.7 833.5 L288.9 814.3 L289.1 832.0 L289.4 821.3 L289.6 827.9 L289.8 812.1 L290.1 827.5 L290.3 813.2 L290.5 825.8 L290.7 805.5 L291.0 823.7 L291.2 829.2 L291.4 827.2 L291.6 832.5 L291.9 815.4 L292.1 834.8 L292.3 835.5 L292.6 814.5 L292.8 818.1 L293.0 820.8 L293.2 823.9 L293.5 825.5 L293.7 804.7 L293.9 828.1 L294.2 821.7 L294.4 816.2 L294.6 830.7 L294.8 821.6 L295.1 833.8 L295.3 828.8 L295.5 821.3 L295.7 833.6 L296.0 832.4 L296.2 822.5 L296.4 813.3 L296.7 820.4 L296.9 830.0 L297.1 824.3 L297.3 839.8 L297.6 827.9 L297.8 827.0 L298.0 829.1 L298.3 818.7 L298.5 824.6 L298.7 820.2 L298.9 808.2 L299.2 812.0 L299.4 826.7 L299.6 822.9 L299.8 825.2 L300.1 816.0 L300.3 823.3 L300.5 832.6 L300.8 826.6 L301.0 822.0 L301.2 838.7 L301.4 827.0 L301.7 824.6 L301.9 834.8 L302.1 813.2 L302.4 832.0 L302.6 818.8 L302.8 822.0 L303.0 823.3 L303.3 830.1 L303.5 830.5 L303.7 831.8 L303.9 823.5 L304.2 841.2 L304.4 842.4 L304.6 834.9 L304.9 834.3 L305.1 826.0 L305.3 813.7 L305.5 833.0 L305.8 828.2 L306.0 823.5 L306.2 814.2 L306.5 848.2 L306.7 818.1 L306.9 827.3 L307.1 833.8 L307.4 815.6 L307.6 822.2 L307.8 810.4 L308.0 814.1 L308.3 810.0 L308.5 820.4 L308.7 827.7 L309.0 821.9 L309.2 834.3 L309.4 834.9 L309.6 824.4 L309.9 821.9 L310.1 822.0 L310.3 821.2 L310.6 835.2 L310.8 827.8 L311.0 822.6 L311.2 823.2 L311.5 829.1 L311.7 822.6 L311.9 828.1 L312.1 825.8 L312.4 836.1 L312.6 835.2 L312.8 815.8 L313.1 814.1 L313.3 822.1 L313.5 822.2 L313.7 832.2 L314.0 828.8 L314.2 831.0 L314.4 826.0 L314.7 828.6 L314.9 830.4 L315.1 805.0 L315.3 820.7 L315.6 819.1 L315.8 840.1 L316.0 830.6 L316.2 831.8 L316.5 823.4 L316.7 825.8 L316.9 811.1 L317.2 835.1 L317.4 825.1 L317.6 834.4 L317.8 828.8 L318.1 827.5 L318.3 825.0 L318.5 826.7 L318.8 828.0 L319.0 839.2 L319.2 846.3 L319.4 820.2 L319.7 830.4 L319.9 833.9 L320.1 821.4 L320.3 823.8 L320.6 825.3 L320.8 809.6 L321.0 833.2 L321.3 826.5 L321.5 825.6 L321.7 828.0 L321.9 829.0 L322.2 844.5 L322.4 829.0 L322.6 835.0 L322.9 825.3 L323.1 822.3 L323.3 826.6 L323.5 822.0 L323.8 821.5 L324.0 821.2 L324.2 831.0 L324.4 833.5 L324.7 830.6 L324.9 822.1 L325.1 830.5 L325.4 807.9 L325.6 834.1 L325.8 826.0 L326.0 829.5 L326.3 837.0 L326.5 825.0 L326.7 824.2 L327.0 825.3 L327.2 833.2 L327.4 825.6 L327.6 831.2 L327.9 839.2 L328.1 823.8 L328.3 823.6 L328.5 826.0 L328.8 831.1 L329.0 849.8 L329.2 825.7 L329.5 814.7 L329.7 825.3 L329.9 864.0 L330.1 825.0 L330.4 829.2 L330.6 821.4 L330.8 823.0 L331.1 813.7 L331.3 828.7 L331.5 822.0 L331.7 835.9 L332.0 835.3 L332.2 820.7 L332.4 799.0 L332.6 827.9 L332.9 832.5 L333.1 814.1 L333.3 826.7 L333.6 841.9 L333.8 826.8 L334.0 827.4 L334.2 825.7 L334.5 816.9 L334.7 833.3 L334.9 828.6 L335.2 828.5 L335.4 833.2 L335.6 834.0 L335.8 813.1 L336.1 832.0 L336.3 824.3 L336.5 830.4 L336.7 823.0 L337.0 821.3 L337.2 835.2 L337.4 828.8 L337.7 827.3 L337.9 827.9 L338.1 830.3 L338.3 829.3 L338.6 811.4 L338.8 823.6 L339.0 828.2 L339.3 834.8 L339.5 839.5 L339.7 822.5 L339.9 845.0 L340.2 831.2 L340.4 834.8 L340.6 827.7 L340.8 826.7 L341.1 842.1 L341.3 828.9 L341.5 829.6 L341.8 840.2 L342.0 844.2 L342.2 819.2 L342.4 828.6 L342.7 829.3 L342.9 842.6 L343.1 848.0 L343.4 829.7 L343.6 832.6 L343.8 837.0 L344.0 839.9 L344.3 829.4 L344.5 838.8 L344.7 826.1 L344.9 811.1 L345.2 819.9 L345.4 832.1 L345.6 836.7 L345.9 814.0 L346.1 818.6 L346.3 832.6 L346.5 807.0 L346.8 830.2 L347.0 841.1 L347.2 811.2 L347.5 839.4 L347.7 832.2 L347.9 835.3 L348.1 835.6 L348.4 824.5 L348.6 833.5 L348.8 838.8 L349.0 832.5 L349.3 830.0 L349.5 819.3 L349.7 833.7 L350.0 830.1 L350.2 843.9 L350.4 830.3 L350.6 828.9 L350.9 823.8 L351.1 833.8 L351.3 826.1 L351.6 821.4 L351.8 838.8 L352.0 840.1 L352.2 822.8 L352.5 819.2 L352.7 835.0 L352.9 819.9 L353.1 848.3 L353.4 826.4 L353.6 835.1 L353.8 818.3 L354.1 828.4 L354.3 835.8 L354.5 831.6 L354.7 824.4 L355.0 846.6 L355.2 833.8 L355.4 826.5 L355.7 823.7 L355.9 826.6 L356.1 839.5 L356.3 824.0 L356.6 829.1 L356.8 822.3 L357.0 838.4 L357.2 827.0 L357.5 834.9 L357.7 833.5 L357.9 823.9 L358.2 833.4 L358.4 834.9 L358.6 808.4 L358.8 832.1 L359.1 855.3 L359.3 825.2 L359.5 832.4 L359.8 818.0 L360.0 831.3 L360.2 822.9 L360.4 833.0 L360.7 826.6 L360.9 809.8 L361.1 835.3 L361.3 826.2 L361.6 819.8 L361.8 828.1 L362.0 820.1 L362.3 830.1 L362.5 826.5 L362.7 825.1 L362.9 833.5 L363.2 819.3 L363.4 830.4 L363.6 814.9 L363.9 842.0 L364.1 831.4 L364.3 828.0 L364.5 824.2 L364.8 833.4 L365.0 829.1 L365.2 829.4 L365.4 839.1 L365.7 827.4 L365.9 828.8 L366.1 834.3 L366.4 838.8 L366.6 830.3 L366.8 832.9 L367.0 832.8 L367.3 837.1 L367.5 842.3 L367.7 823.2 L368.0 829.7 L368.2 830.0 L368.4 834.8 L368.6 842.1 L368.9 830.3 L369.1 831.6 L369.3 838.3 L369.5 820.1 L369.8 822.8 L370.0 825.6 L370.2 829.2 L370.5 831.0 L370.7 825.5 L370.9 842.6 L371.1 818.5 L371.4 827.1 L371.6 836.8 L371.8 834.2 L372.1 828.1 L372.3 831.7 L372.5 834.2 L372.7 827.7 L373.0 833.4 L373.2 820.8 L373.4 827.5 L373.6 802.7 L373.9 819.7 L374.1 818.2 L374.3 836.9 L374.6 823.9 L374.8 829.3 L375.0 811.4 L375.2 825.7 L375.5 825.4 L375.7 821.1 L375.9 834.5 L376.2 808.2 L376.4 834.4 L376.6 850.3 L376.8 813.6 L377.1 830.2 L377.3 818.3 L377.5 829.5 L377.7 815.6 L378.0 833.8 L378.2 826.3 L378.4 815.4 L378.7 819.8 L378.9 816.4 L379.1 826.1 L379.3 834.1 L379.6 824.8 L379.8 818.4 L380.0 821.4 L380.3 829.0 L380.5 809.3 L380.7 833.0 L380.9 831.1 L381.2 808.2 L381.4 834.8 L381.6 813.0 L381.8 823.4 L382.1 834.2 L382.3 812.5 L382.5 811.2 L382.8 817.4 L383.0 816.8 L383.2 823.9 L383.4 821.7 L383.7 822.7 L383.9 823.5 L384.1 826.4 L384.4 820.2 L384.6 830.0 L384.8 827.6 L385.0 818.9 L385.3 840.8 L385.5 817.2 L385.7 833.7 L385.9 813.0 L386.2 832.7 L386.4 833.8 L386.6 836.6 L386.9 841.3 L387.1 823.8 L387.3 852.7 L387.5 833.5 L387.8 824.4 L388.0 820.4 L388.2 848.7 L388.5 842.9 L388.7 829.9 L388.9 835.6 L389.1 840.8 L389.4 830.8 L389.6 827.1 L389.8 830.1 L390.0 837.5 L390.3 832.0 L390.5 821.2 L390.7 837.0 L391.0 818.0 L391.2 825.2 L391.4 840.6 L391.6 833.3 L391.9 833.7 L392.1 832.9 L392.3 840.2 L392.6 832.6 L392.8 818.2 L393.0 834.8 L393.2 809.0 L393.5 816.7 L393.7 844.9 L393.9 840.4 L394.1 828.8 L394.4 830.8 L394.6 832.4 L394.8 838.5 L395.1 824.0 L395.3 823.2 L395.5 824.6 L395.7 829.5 L396.0 831.0 L396.2 825.9 L396.4 833.6 L396.7 820.6 L396.9 827.0 L397.1 822.3 L397.3 819.6 L397.6 837.5 L397.8 825.8 L398.0 819.6 L398.2 828.0 L398.5 809.5 L398.7 833.0 L398.9 835.0 L399.2 837.0 L399.4 821.1 L399.6 828.2 L399.8 844.2 L400.1 828.0 L400.3 838.2 L400.5 830.5 L400.8 807.4 L401.0 839.1 L401.2 836.2 L401.4 836.3 L401.7 842.8 L401.9 832.7 L402.1 829.7 L402.3 833.2 L402.6 826.3 L402.8 833.8 L403.0 814.1 L403.3 843.0 L403.5 825.7 L403.7 834.1 L403.9 831.5 L404.2 829.7 L404.4 830.4 L404.6 829.1 L404.9 815.7 L405.1 824.8 L405.3 837.8 L405.5 821.0 L405.8 820.6 L406.0 845.7 L406.2 839.0 L406.4 831.5 L406.7 830.4 L406.9 832.2 L407.1 836.4 L407.4 833.7 L407.6 828.7 L407.8 817.8 L408.0 823.2 L408.3 816.8 L408.5 840.0 L408.7 824.9 L409.0 825.4 L409.2 828.4 L409.4 825.9 L409.6 831.0 L409.9 822.4 L410.1 806.7 L410.3 839.6 L410.5 820.2 L410.8 821.1 L411.0 818.8 L411.2 821.3 L411.5 825.2 L411.7 830.9 L411.9 806.4 L412.1 828.0 L412.4 820.9 L412.6 835.7 L412.8 817.2 L413.1 827.0 L413.3 821.6 L413.5 816.9 L413.7 829.0 L414.0 830.3 L414.2 823.4 L414.4 827.0 L414.6 835.7 L414.9 829.2 L415.1 826.0 L415.3 827.6 L415.6 833.6 L415.8 838.9 L416.0 835.2 L416.2 834.8 L416.5 840.9 L416.7 816.3 L416.9 817.7 L417.2 811.1 L417.4 834.7 L417.6 811.3 L417.8 828.4 L418.1 834.4 L418.3 818.5 L418.5 824.7 L418.7 827.1 L419.0 834.4 L419.2 811.0 L419.4 832.1 L419.7 835.2 L419.9 831.0 L420.1 831.7 L420.3 840.1 L420.6 832.1 L420.8 822.9 L421.0 828.0 L421.3 835.4 L421.5 828.9 L421.7 836.1 L421.9 832.0 L422.2 840.1 L422.4 825.5 L422.6 833.0 L422.8 835.0 L423.1 835.6 L423.3 840.9 L423.5 835.3 L423.8 830.6 L424.0 864.0 L424.2 837.3 L424.4 823.0 L424.7 819.6 L424.9 834.9 L425.1 826.1 L425.4 832.3 L425.6 827.9 L425.8 839.4 L426.0 839.7 L426.3 822.3 L426.5 832.7 L426.7 828.3 L426.9 820.7 L427.2 835.6 L427.4 819.2 L427.6 833.3 L427.9 848.1 L428.1 839.0 L428.3 837.4 L428.5 826.2 L428.8 812.7 L429.0 838.5 L429.2 827.3 L429.5 829.4 L429.7 826.8 L429.9 830.4 L430.1 846.8 L430.4 826.1 L430.6 825.4 L430.8 828.7 L431.0 829.0 L431.3 817.5 L431.5 812.9 L431.7 821.0 L432.0 823.1 L432.2 819.3 L432.4 817.7 L432.6 818.1 L432.9 822.1 L433.1 823.8 L433.3 812.0 L433.6 821.4 L433.8 818.7 L434.0 823.1 L434.2 814.5 L434.5 821.8 L434.7 824.2 L434.9 830.9 L435.1 812.7 L435.4 831.3 L435.6 822.5 L435.8 827.7 L436.1 830.4 L436.3 792.0 L436.5 819.6 L436.7 817.7 L437.0 831.7 L437.2 821.7 L437.4 815.5 L437.7 820.6 L437.9 828.0 L438.1 834.3 L438.3 821.7 L438.6 824.4 L438.8 825.5 L439.0 818.9 L439.2 818.6 L439.5 822.3 L439.7 827.3 L439.9 826.0 L440.2 825.6 L440.4 810.2 L440.6 821.2 L440.8 820.7 L441.1 833.8 L441.3 836.5 L441.5 827.8 L441.8 836.0 L442.0 822.1 L442.2 821.7 L442.4 814.8 L442.7 827.3 L442.9 822.7 L443.1 815.5 L443.3 830.1 L443.6 825.2 L443.8 818.7 L444.0 826.7 L444.3 820.6 L444.5 828.0 L444.7 833.2 L444.9 826.2 L445.2 826.8 L445.4 834.7 L445.6 836.1 L445.9 826.7 L446.1 820.3 L446.3 823.7 L446.5 830.5 L446.8 833.1 L447.0 845.6 L447.2 826.4 L447.4 828.8 L447.7 825.0 L447.9 827.6 L448.1 823.9 L448.4 818.6 L448.6 834.5 L448.8 828.7 L449.0 837.3 L449.3 823.6 L449.5 829.8 L449.7 832.5 L450.0 813.1 L450.2 817.2 L450.4 833.2 L450.6 828.2 L450.9 814.8 L451.1 822.7 L451.3 820.6 L451.5 825.7 L451.8 839.8 L452.0 822.7 L452.2 842.9 L452.5 825.7 L452.7 821.2 L452.9 838.6 L453.1 833.7 L453.4 836.4 L453.6 840.4 L453.8 833.2 L454.1 827.1 L454.3 812.6 L454.5 820.5 L454.7 830.4 L455.0 828.5 L455.2 832.2 L455.4 824.1 L455.6 835.9 L455.9 843.0 L456.1 832.4 L456.3 833.7 L456.6 831.6 L456.8 835.2 L457.0 830.0 L457.2 824.8 L457.5 829.7 L457.7 829.2 L457.9 817.2 L458.2 830.9 L458.4 829.9 L458.6 831.2 L458.8 825.1 L459.1 831.8 L459.3 831.3 L459.5 815.7 L459.7 828.6 L460.0 831.5 L460.2 831.2 L460.4 818.1 L460.7 817.3 L460.9 824.5 L461.1 817.0 L461.3 843.4 L461.6 818.4 L461.8 818.0 L462.0 827.6 L462.3 820.4 L462.5 805.0 L462.7 820.9 L462.9 814.3 L463.2 817.2 L463.4 809.2 L463.6 815.3 L463.8 821.6 L464.1 815.9 L464.3 814.6 L464.5 817.6 L464.8 817.7 L465.0 824.2 L465.2 822.9 L465.4 814.7 L465.7 829.4 L465.9 818.6 L466.1 827.2 L466.4 817.8 L466.6 826.0 L466.8 823.4 L467.0 825.0 L467.3 829.5 L467.5 829.7 L467.7 827.6 L467.9 827.5 L468.2 816.3 L468.4 824.4 L468.6 808.7 L468.9 808.0 L469.1 822.9 L469.3 823.9 L469.5 836.2 L469.8 819.4 L470.0 833.8 L470.2 824.6 L470.5 829.5 L470.7 835.5 L470.9 830.4 L471.1 829.2 L471.4 828.4 L471.6 820.7 L471.8 820.7 L472.0 816.4 L472.3 822.2 L472.5 825.3 L472.7 814.0 L473.0 831.4 L473.2 824.8 L473.4 836.9 L473.6 844.2 L473.9 832.8 L474.1 824.7 L474.3 818.2 L474.6 843.7 L474.8 831.6 L475.0 818.6 L475.2 835.7 L475.5 814.9 L475.7 823.9 L475.9 824.8 L476.1 823.3 L476.4 817.6 L476.6 842.8 L476.8 822.1 L477.1 828.1 L477.3 825.4 L477.5 813.0 L477.7 820.3 L478.0 826.1 L478.2 830.3 L478.4 820.0 L478.7 825.4 L478.9 811.3 L479.1 827.4 L479.3 805.2 L479.6 827.9 L479.8 807.9 L480.0 819.5 L480.2 803.2 L480.5 816.6 L480.7 829.2 L480.9 842.2 L481.2 819.5 L481.4 819.9 L481.6 828.5 L481.8 827.0 L482.1 820.7 L482.3 823.1 L482.5 821.7 L482.8 828.7 L483.0 830.5 L483.2 837.8 L483.4 830.9 L483.7 828.6 L483.9 825.4 L484.1 831.8 L484.3 818.2 L484.6 841.9 L484.8 827.4 L485.0 835.2 L485.3 819.7 L485.5 833.7 L485.7 828.8 L485.9 825.2 L486.2 822.4 L486.4 821.2 L486.6 840.8 L486.9 835.9 L487.1 827.8 L487.3 829.1 L487.5 823.1 L487.8 815.5 L488.0 815.7 L488.2 825.5 L488.4 828.6 L488.7 820.2 L488.9 834.3 L489.1 832.0 L489.4 829.1 L489.6 814.9 L489.8 826.5 L490.0 827.5 L490.3 818.5 L490.5 811.5 L490.7 842.1 L491.0 832.3 L491.2 824.4 L491.4 839.9 L491.6 836.4 L491.9 831.6 L492.1 829.3 L492.3 833.0 L492.5 838.9 L492.8 828.6 L493.0 825.7 L493.2 832.2 L493.5 806.3 L493.7 829.3 L493.9 825.2 L494.1 817.7 L494.4 816.9 L494.6 830.5 L494.8 828.2 L495.1 827.7 L495.3 826.2 L495.5 822.8 L495.7 822.2 L496.0 833.2 L496.2 813.1 L496.4 828.3 L496.6 830.2 L496.9 817.6 L497.1 823.5 L497.3 836.5 L497.6 826.3 L497.8 812.8 L498.0 805.4 L498.2 830.6 L498.5 823.1 L498.7 831.9 L498.9 843.7 L499.2 827.6 L499.4 828.5 L499.6 822.6 L499.8 827.7 L500.1 828.6 L500.3 835.3 L500.5 834.2 L500.7 824.4 L501.0 826.6 L501.2 839.9 L501.4 822.8 L501.7 835.2 L501.9 842.0 L502.1 833.1 L502.3 828.4 L502.6 836.9 L502.8 829.0 L503.0 826.4 L503.3 824.5 L503.5 835.1 L503.7 831.6 L503.9 838.1 L504.2 824.6 L504.4 824.6 L504.6 822.8 L504.8 826.9 L505.1 818.9 L505.3 832.1 L505.5 828.2 L505.8 818.2 L506.0 803.6 L506.2 812.0 L506.4 836.2 L506.7 825.7 L506.9 828.3 L507.1 824.6 L507.4 831.9 L507.6 815.4 L507.8 814.6 L508.0 817.4 L508.3 829.6 L508.5 833.4 L508.7 832.7 L508.9 828.3 L509.2 819.2 L509.4 834.6 L509.6 827.4 L509.9 828.9 L510.1 828.4 L510.3 824.1 L510.5 822.5 L510.8 816.8 L511.0 816.5 L511.2 828.1 L511.5 823.8 L511.7 832.3 L511.9 811.2 L512.1 830.7 L512.4 820.6 L512.6 820.1 L512.8 814.1 L513.0 813.9 L513.3 809.0 L513.5 826.3 L513.7 818.1 L514.0 826.1 L514.2 827.1 L514.4 817.6 L514.6 811.3 L514.9 818.1 L515.1 829.3 L515.3 822.1 L515.6 822.5 L515.8 826.6 L516.0 820.0 L516.2 836.4 L516.5 814.8 L516.7 831.1 L516.9 833.0 L517.1 814.3 L517.4 829.4 L517.6 826.0 L517.8 830.1 L518.1 792.0 L518.3 825.7 L518.5 815.9 L518.7 819.9 L519.0 833.0 L519.2 821.3 L519.4 805.4 L519.7 812.2 L519.9 813.9 L520.1 830.5 L520.3 817.4 L520.6 812.5 L520.8 832.4 L521.0 825.6 L521.2 825.8 L521.5 817.5 L521.7 834.3 L521.9 824.1 L522.2 810.6 L522.4 816.3 L522.6 819.3 L522.8 824.3 L523.1 830.6 L523.3 820.1 L523.5 821.3 L523.8 842.0 L524.0 825.8 L524.2 821.7 L524.4 825.8 L524.7 816.8 L524.9 829.6 L525.1 832.8 L525.3 819.5 L525.6 831.6 L525.8 821.9 L526.0 826.0 L526.3 818.1 L526.5 818.0 L526.7 811.7 L526.9 824.6 L527.2 821.5 L527.4 820.8 L527.6 814.5 L527.9 815.1 L528.1 817.9 L528.3 825.3 L528.5 824.1 L528.8 817.0 L529.0 824.5 L529.2 834.8 L529.4 822.9 L529.7 864.0 L529.9 824.3 L530.1 831.8 L530.4 818.5 L530.6 820.4 L530.8 815.1 L531.0 826.5 L531.3 822.5 L531.5 810.4 L531.7 814.5 L532.0 832.0 L532.2 828.7 L532.4 833.3 L532.6 824.3 L532.9 802.6 L533.1 825.6 L533.3 820.3 L533.5 820.4 L533.8 819.6 L534.0 817.1 L534.2 814.9 L534.5 830.8 L534.7 825.8 L534.9 818.1 L535.1 818.5 L535.4 827.5 L535.6 822.8 L535.8 820.7 L536.1 809.0 L536.3 814.5 L536.5 808.5 L536.7 803.3 L537.0 822.1 L537.2 814.0 L537.4 813.8 L537.6 809.9 L537.9 822.6 L538.1 831.4 L538.3 820.6 L538.6 823.3 L538.8 807.9 L539.0 818.4 L539.2 819.6 L539.5 828.5 L539.7 818.5 L539.9 812.9 L540.2 820.5 L540.4 817.8 L540.6 831.0 L540.8 826.5 L541.1 824.2 L541.3 824.2 L541.5 827.8 L541.7 818.3 L542.0 807.2 L542.2 808.7 L542.4 829.5 L542.7 823.8 L542.9 824.0 L543.1 820.5 L543.3 831.2 L543.6 813.9 L543.8 827.8 L544.0 813.3 L544.3 814.9 L544.5 808.7 L544.7 818.2 L544.9 814.6 L545.2 818.7 L545.4 811.6 L545.6 805.1 L545.8 817.4 L546.1 820.8 L546.3 817.3 L546.5 811.7 L546.8 815.2 L547.0 800.5 L547.2 809.0 L547.4 818.4 L547.7 813.7 L547.9 803.5 L548.1 808.8 L548.4 806.5 L548.6 811.7 L548.8 797.3 L549.0 802.2 L549.3 806.6 L549.5 805.0 L549.7 805.6 L549.9 801.0 L550.2 798.6 L550.4 800.8 L550.6 801.6 L550.9 786.7 L551.1 791.8 L551.3 791.1 L551.5 791.2 L551.8 793.9 L552.0 770.0 L552.2 787.8 L552.5 774.6 L552.7 778.2 L552.9 777.2 L553.1 776.9 L553.4 773.4 L553.6 771.4 L553.8 769.7 L554.0 767.2 L554.3 757.7 L554.5 756.5 L554.7 748.8 L555.0 755.1 L555.2 753.4 L555.4 746.7 L555.6 743.7 L555.9 738.1 L556.1 736.6 L556.3 732.6 L556.6 727.6 L556.8 720.9 L557.0 718.0 L557.2 712.9 L557.5 705.9 L557.7 699.8 L557.9 697.6 L558.1 684.0 L558.4 683.1 L558.6 676.0 L558.8 672.4 L559.1 652.2 L559.3 654.0 L559.5 651.5 L559.7 640.7 L560.0 639.4 L560.2 632.0 L560.4 613.2 L560.7 616.0 L560.9 607.5 L561.1 597.7 L561.3 593.7 L561.6 584.3 L561.8 577.5 L562.0 570.6 L562.2 562.5 L562.5 554.8 L562.7 545.9 L562.9 539.2 L563.2 531.9 L563.4 524.2 L563.6 517.8 L563.8 516.0 L564.1 494.3 L564.3 503.1 L564.5 493.7 L564.8 488.8 L565.0 482.3 L565.2 476.9 L565.4 460.6 L565.7 468.8 L565.9 464.4 L566.1 465.8 L566.3 461.5 L566.6 455.8 L566.8 454.7 L567.0 456.3 L567.3 455.5 L567.5 453.2 L567.7 456.8 L567.9 453.4 L568.2 450.9 L568.4 461.3 L568.6 455.5 L568.9 463.9 L569.1 469.4 L569.3 470.5 L569.5 473.0 L569.8 478.3 L570.0 481.1 L570.2 488.3 L570.4 496.6 L570.7 501.9 L570.9 508.8 L571.1 514.2 L571.4 523.0 L571.6 526.7 L571.8 536.7 L572.0 533.3 L572.3 551.1 L572.5 557.3 L572.7 563.0 L573.0 575.9 L573.2 583.7 L573.4 594.0 L573.6 598.3 L573.9 607.7 L574.1 613.1 L574.3 619.6 L574.5 628.1 L574.8 632.8 L575.0 642.2 L575.2 648.4 L575.5 654.1 L575.7 665.0 L575.9 671.8 L576.1 676.3 L576.4 682.9 L576.6 690.5 L576.8 693.1 L577.1 696.8 L577.3 702.7 L577.5 709.6 L577.7 713.8 L578.0 706.6 L578.2 725.8 L578.4 728.8 L578.6 735.5 L578.9 738.8 L579.1 739.4 L579.3 739.7 L579.6 745.4 L579.8 748.9 L580.0 753.9 L580.2 759.1 L580.5 765.5 L580.7 760.1 L580.9 769.5 L581.2 769.4 L581.4 771.3 L581.6 864.0 L581.8 774.5 L582.1 785.3 L582.3 779.4 L582.5 778.7 L582.7 780.0 L583.0 772.2 L583.2 783.1 L583.4 790.3 L583.7 792.8 L583.9 793.0 L584.1 784.7 L584.3 789.9 L584.6 801.5 L584.8 803.2 L585.0 795.2 L585.3 803.7 L585.5 805.0 L585.7 810.7 L585.9 800.0 L586.2 813.0 L586.4 803.4 L586.6 814.6 L586.8 812.6 L587.1 802.5 L587.3 798.5 L587.5 812.8 L587.8 818.2 L588.0 802.8 L588.2 808.0 L588.4 816.5 L588.7 816.3 L588.9 806.3 L589.1 807.5 L589.4 816.0 L589.6 806.3 L589.8 815.0 L590.0 820.2 L590.3 814.6 L590.5 796.0 L590.7 822.4 L590.9 823.3 L591.2 826.4 L591.4 824.0 L591.6 806.2 L591.9 827.2 L592.1 819.5 L592.3 823.4 L592.5 815.0 L592.8 814.6 L593.0 814.7 L593.2 827.6 L593.5 818.3 L593.7 815.4 L593.9 808.6 L594.1 820.8 L594.4 817.8 L594.6 819.5 L594.8 825.0 L595.0 823.5 L595.3 819.4 L595.5 821.8 L595.7 821.0 L596.0 824.1 L596.2 822.9 L596.4 819.1 L596.6 812.3 L596.9 825.3 L597.1 825.7 L597.3 813.6 L597.6 823.2 L597.8 818.8 L598.0 805.0 L598.2 820.8 L598.5 828.3 L598.7 817.0 L598.9 818.2 L599.1 830.8 L599.4 816.1 L599.6 817.0 L599.8 822.0 L600.1 828.2 L600.3 827.5 L600.5 819.6 L600.7 822.3 L601.0 825.8 L601.2 822.5 L601.4 819.1 L601.7 816.9 L601.9 831.1 L602.1 824.2 L602.3 847.7 L602.6 831.3 L602.8 822.3 L603.0 828.1 L603.2 829.8 L603.5 829.7 L603.7 828.9 L603.9 828.6 L604.2 824.3 L604.4 829.8 L604.6 840.1 L604.8 821.0 L605.1 821.9 L605.3 829.3 L605.5 832.8 L605.8 829.1 L606.0 832.4 L606.2 823.4 L606.4 822.6 L606.7 821.4 L606.9 827.8 L607.1 835.2 L607.3 835.2 L607.6 809.9 L607.8 827.9 L608.0 818.0 L608.3 808.4 L608.5 827.1 L608.7 823.2 L608.9 821.4 L609.2 815.0 L609.4 817.3 L609.6 823.3 L609.9 814.6 L610.1 824.4 L610.3 826.3 L610.5 824.7 L610.8 827.9 L611.0 824.4 L611.2 814.9 L611.4 811.4 L611.7 825.6 L611.9 831.6 L612.1 825.2 L612.4 820.9 L612.6 826.0 L612.8 811.3 L613.0 817.1 L613.3 821.9 L613.5 823.7 L613.7 822.4 L614.0 822.8 L614.2 816.0 L614.4 820.7 L614.6 826.5 L614.9 812.1 L615.1 816.8 L615.3 813.1 L615.5 836.1 L615.8 830.6 L616.0 839.3 L616.2 836.2 L616.5 822.7 L616.7 825.6 L616.9 817.2 L617.1 834.6 L617.4 831.4 L617.6 821.8 L617.8 831.3 L618.1 830.0 L618.3 828.7 L618.5 828.6 L618.7 835.8 L619.0 820.9 L619.2 818.2 L619.4 825.8 L619.6 833.6 L619.9 826.6 L620.1 823.9 L620.3 832.3 L620.6 826.7 L620.8 810.8 L621.0 818.1 L621.2 803.7 L621.5 824.0 L621.7 823.3 L621.9 829.7 L622.2 842.9 L622.4 822.8 L622.6 826.1 L622.8 823.8 L623.1 805.9 L623.3 821.0 L623.5 820.6 L623.7 827.7 L624.0 819.4 L624.2 816.0 L624.4 830.3 L624.7 825.2 L624.9 818.3 L625.1 819.7 L625.3 822.6 L625.6 831.4 L625.8 836.1 L626.0 816.8 L626.3 833.9 L626.5 824.9 L626.7 827.8 L626.9 831.6 L627.2 816.3 L627.4 829.5 L627.6 812.7 L627.8 819.1 L628.1 816.9 L628.3 836.4 L628.5 836.7 L628.8 831.5 L629.0 830.0 L629.2 822.0 L629.4 839.7 L629.7 837.3 L629.9 833.1 L630.1 826.6 L630.4 825.0 L630.6 826.9 L630.8 837.4 L631.0 821.8 L631.3 786.0 L631.5 840.9 L631.7 835.5 L631.9 842.6 L632.2 833.6 L632.4 834.3 L632.6 841.5 L632.9 835.5 L633.1 833.5 L633.3 826.9 L633.5 819.3 L633.8 840.8 L634.0 827.2 L634.2 824.4 L634.5 837.0 L634.7 824.3 L634.9 820.9 L635.1 826.6 L635.4 830.2 L635.6 822.2 L635.8 832.6 L636.0 835.6 L636.3 827.6 L636.5 831.7 L636.7 828.3 L637.0 824.9 L637.2 832.2 L637.4 830.9 L637.6 842.4 L637.9 822.7 L638.1 821.9 L638.3 831.3 L638.6 825.5 L638.8 839.4 L639.0 815.1 L639.2 823.1 L639.5 822.7 L639.7 827.5 L639.9 824.9 L640.1 804.7 L640.4 812.1 L640.6 826.6 L640.8 835.5 L641.1 835.0 L641.3 821.0 L641.5 827.5 L641.7 816.9 L642.0 812.9 L642.2 833.1 L642.4 829.8 L642.7 822.1 L642.9 821.6 L643.1 830.6 L643.3 825.4 L643.6 819.9 L643.8 824.9 L644.0 822.2 L644.2 819.1 L644.5 817.5 L644.7 830.2 L644.9 820.1 L645.2 815.2 L645.4 838.2 L645.6 834.7 L645.8 829.9 L646.1 825.4 L646.3 827.5 L646.5 815.0 L646.8 825.7 L647.0 827.3 L647.2 821.8 L647.4 827.0 L647.7 819.1 L647.9 827.1 L648.1 814.9 L648.3 826.8 L648.6 821.2 L648.8 815.8 L649.0 822.7 L649.3 825.5 L649.5 821.0 L649.7 832.9 L649.9 820.7 L650.2 832.8 L650.4 832.2 L650.6 812.2 L650.9 836.9 L651.1 816.4 L651.3 831.6 L651.5 827.5 L651.8 832.9 L652.0 817.1 L652.2 820.5 L652.4 817.5 L652.7 829.4 L652.9 830.0 L653.1 816.9 L653.4 826.7 L653.6 824.3 L653.8 819.0 L654.0 826.2 L654.3 833.4 L654.5 836.9 L654.7 825.1 L655.0 836.5 L655.2 817.8 L655.4 833.3 L655.6 820.3 L655.9 829.5 L656.1 820.7 L656.3 820.9 L656.5 825.0 L656.8 839.1 L657.0 823.3 L657.2 831.9 L657.5 828.8 L657.7 829.6 L657.9 830.4 L658.1 833.0 L658.4 818.5 L658.6 827.8 L658.8 830.0 L659.1 823.3 L659.3 829.9 L659.5 819.8 L659.7 832.5 L660.0 821.3 L660.2 823.9 L660.4 830.9 L660.6 832.8 L660.9 819.7 L661.1 814.0 L661.3 831.9 L661.6 803.7 L661.8 834.8 L662.0 835.2 L662.2 817.2 L662.5 833.0 L662.7 826.1 L662.9 826.9 L663.2 807.0 L663.4 821.8 L663.6 824.0 L663.8 821.4 L664.1 821.5 L664.3 823.0 L664.5 803.8 L664.7 823.8 L665.0 821.0 L665.2 825.7 L665.4 823.1 L665.7 827.0 L665.9 828.3 L666.1 839.5 L666.3 820.1 L666.6 838.8 L666.8 824.6 L667.0 820.1 L667.3 816.8 L667.5 834.7 L667.7 817.4 L667.9 836.2 L668.2 831.2 L668.4 824.7 L668.6 825.5 L668.8 833.8 L669.1 831.3 L669.3 836.6 L669.5 831.5 L669.8 827.5 L670.0 834.9 L670.2 821.9 L670.4 836.7 L670.7 831.4 L670.9 822.4 L671.1 822.6 L671.4 828.2 L671.6 810.9 L671.8 840.0 L672.0 837.2 L672.3 821.9 L672.5 828.6 L672.7 840.6 L672.9 831.0 L673.2 820.3 L673.4 810.9 L673.6 815.1 L673.9 836.1 L674.1 829.1 L674.3 816.9 L674.5 831.9 L674.8 824.3 L675.0 822.0" fill="none" stroke="#3a489c" stroke-width="4.6" stroke-linejoin="round"/>

<g fill="#151515" stroke="#151515" stroke-width="0.7" font-size="31.5"><text x="83.0" y="901.5" text-anchor="middle">1200</text><text x="181.7" y="901.5" text-anchor="middle">1500</text><text x="280.3" y="901.5" text-anchor="middle">1800</text><text x="379.0" y="901.5" text-anchor="middle">2100</text><text x="477.7" y="901.5" text-anchor="middle">2400</text><text x="576.3" y="901.5" text-anchor="middle">2700</text><text x="675.0" y="901.5" text-anchor="middle">3000</text></g>
<text x="357" y="948" font-size="35" text-anchor="middle" fill="#151515" stroke="#151515" stroke-width="0.7">Raman shift (cm<tspan dy="-10.3" font-size="23">&#8722;1</tspan><tspan dy="10.3">)</tspan></text>
<text transform="translate(24 450.5) rotate(-90)" font-size="35" text-anchor="middle" fill="#151515" stroke="#151515" stroke-width="0.7">Intensity (a. u.)</text>

<text x="114" y="88.5" font-size="44" font-weight="bold" fill="#000">A</text>
<text transform="translate(114.6 503.8) scale(0.9 1)" font-size="44" font-weight="bold" fill="#000">B</text>
<text x="188" y="229.5" font-size="40" fill="#151515" stroke="#151515" stroke-width="0.7">G</text>
<text x="113" y="375" font-size="39.5" fill="#151515" stroke="#151515" stroke-width="0.7">D</text>
<text x="501" y="71.5" font-size="39.5" fill="#151515" stroke="#151515" stroke-width="0.7">2D</text>
<text x="325" y="361" font-size="39" fill="#e4141c" stroke="#e4141c" stroke-width="0.7">G/SiO<tspan dy="9" font-size="27">2</tspan></text>
<text x="320" y="727.5" font-size="39" fill="#e4141c" stroke="#e4141c" stroke-width="0.7">G/Si<tspan dy="9" font-size="27">3</tspan><tspan dy="-9">N</tspan><tspan dy="9" font-size="27">4</tspan></text>

<!-- ===== SEM ===== -->
<g>
<rect x="717" y="0" width="340" height="523" fill="url(#gD)"/>
<rect x="1070" y="0" width="346" height="523" fill="url(#gS)"/>
<rect x="1070" y="430" width="346" height="93" fill="url(#gBot)"/>
<path d="M1036.5 0.0 L1038.0 33.0 L1035.0 77.0 L1036.5 110.0 L1036.0 170.0 L1037.5 200.0 L1037.0 258.0 L1037.5 300.0 L1037.5 523.0 L1091.0 523.0 L1089.0 490.0 L1087.0 455.0 L1083.0 445.0 L1090.0 430.0 L1090.0 395.0 L1094.0 373.0 L1087.0 360.0 L1089.0 340.0 L1090.0 312.0 L1094.0 299.0 L1087.0 287.0 L1083.0 277.0 L1090.0 262.0 L1091.0 215.0 L1090.0 180.0 L1090.0 125.0 L1085.0 110.0 L1086.0 95.0 L1085.5 75.0 L1089.0 60.0 L1089.0 40.0 L1090.5 25.0 L1089.0 15.0 L1087.0 0.0 Z" fill="#5f5d5b"/>
<rect x="1038" y="452" width="51" height="71" fill="#6a6866"/>
<path d="M1039 452H1088" stroke="#7a7876" stroke-width="2"/>
<rect x="717" y="0" width="699" height="46" fill="url(#gTop)" mask="url(#mTop)"/>
<rect x="1037" y="0" width="53" height="35" fill="url(#gChTop)"/>
<g filter="url(#soft)" fill="none">
<path d="M1036.5 0.0 C1036.8 5.5 1038.2 20.2 1038.0 33.0 C1037.8 45.8 1035.2 64.2 1035.0 77.0 C1034.8 89.8 1036.3 94.5 1036.5 110.0 C1036.7 125.5 1035.8 155.0 1036.0 170.0 C1036.2 185.0 1037.3 185.3 1037.5 200.0 C1037.7 214.7 1037.0 241.3 1037.0 258.0 C1037.0 274.7 1037.4 255.8 1037.5 300.0 C1037.6 344.2 1037.5 485.8 1037.5 523.0" stroke="#565452" stroke-width="3" transform="translate(2.5 0)"/>
<path d="M1086.8 0.0 L1087.0 4.0 L1088.3 8.0 L1088.5 12.0 L1089.6 16.0 L1089.7 20.0 L1090.7 24.0 L1089.8 28.0 L1090.1 32.0 L1089.7 36.0 L1089.6 40.0 L1089.3 44.0 L1088.7 48.0 L1088.9 52.0 L1090.1 56.0 L1088.8 60.0 L1088.1 64.0 L1088.5 68.0 L1086.8 72.0 L1086.1 76.0 L1084.9 80.0 L1084.9 84.0 L1086.1 88.0 L1087.8 92.0 L1084.4 96.0 L1084.2 100.0 L1085.9 104.0 L1085.4 108.0 L1084.8 112.0 L1087.8 116.0 L1088.5 120.0 L1089.2 124.0 L1089.9 128.0 L1089.5 132.0 L1090.3 136.0 L1089.4 140.0 L1089.0 144.0 L1089.4 148.0 L1090.3 152.0 L1091.0 156.0 L1089.4 160.0 L1089.1 164.0 L1090.2 168.0 L1091.0 172.0 L1089.7 176.0 L1091.3 180.0 L1089.4 184.0 L1091.5 188.0 L1090.9 192.0 L1089.0 196.0 L1091.0 200.0 L1090.5 204.0 L1090.6 208.0 L1090.3 212.0 L1091.0 216.0 L1090.3 220.0 L1090.9 224.0 L1091.6 228.0 L1091.8 232.0 L1091.5 236.0 L1091.2 240.0 L1090.8 244.0 L1090.1 248.0 L1089.2 252.0 L1091.0 256.0 L1089.7 260.0 L1089.2 264.0 L1086.0 268.0 L1085.7 272.0 L1084.7 276.0 L1084.1 280.0 L1086.6 284.0 L1087.4 288.0 L1090.1 292.0 L1091.8 296.0 L1091.4 300.0 L1092.8 304.0 L1091.6 308.0 L1090.5 312.0 L1091.3 316.0 L1090.5 320.0 L1090.0 324.0 L1088.9 328.0 L1091.8 332.0 L1088.0 336.0 L1088.7 340.0 L1088.2 344.0 L1089.1 348.0 L1088.1 352.0 L1087.9 356.0 L1085.5 360.0 L1088.7 364.0 L1092.2 368.0 L1093.0 372.0 L1092.4 376.0 L1092.9 380.0 L1091.5 384.0 L1091.3 388.0 L1090.9 392.0 L1089.1 396.0 L1090.0 400.0 L1091.2 404.0 L1089.8 408.0 L1089.8 412.0 L1089.5 416.0 L1090.3 420.0 L1090.5 424.0 L1089.2 428.0 L1089.2 432.0 L1088.7 436.0 L1083.9 440.0 L1084.4 444.0 L1085.0 448.0 L1084.5 452.0 L1085.6 456.0 L1086.8 460.0 L1088.7 464.0 L1087.2 468.0 L1088.0 472.0 L1088.3 476.0 L1088.4 480.0 L1090.4 484.0 L1089.1 488.0 L1088.1 492.0 L1089.6 496.0 L1090.2 500.0 L1088.9 504.0 L1090.3 508.0 L1089.8 512.0 L1089.4 516.0 L1090.0 520.0" stroke="#575553" stroke-width="3" transform="translate(-2.5 0)"/>
<path d="M1036.5 0.0 C1036.8 5.5 1038.2 20.2 1038.0 33.0 C1037.8 45.8 1035.2 64.2 1035.0 77.0 C1034.8 89.8 1036.3 94.5 1036.5 110.0 C1036.7 125.5 1035.8 155.0 1036.0 170.0 C1036.2 185.0 1037.3 185.3 1037.5 200.0 C1037.7 214.7 1037.0 241.3 1037.0 258.0 C1037.0 274.7 1037.4 255.8 1037.5 300.0 C1037.6 344.2 1037.5 485.8 1037.5 523.0" stroke="#a8a6a4" stroke-width="2.2"/>
<path d="M1086.8 0.0 L1087.0 4.0 L1088.3 8.0 L1088.5 12.0 L1089.6 16.0 L1089.7 20.0 L1090.7 24.0 L1089.8 28.0 L1090.1 32.0 L1089.7 36.0 L1089.6 40.0 L1089.3 44.0 L1088.7 48.0 L1088.9 52.0 L1090.1 56.0 L1088.8 60.0 L1088.1 64.0 L1088.5 68.0 L1086.8 72.0 L1086.1 76.0 L1084.9 80.0 L1084.9 84.0 L1086.1 88.0 L1087.8 92.0 L1084.4 96.0 L1084.2 100.0 L1085.9 104.0 L1085.4 108.0 L1084.8 112.0 L1087.8 116.0 L1088.5 120.0 L1089.2 124.0 L1089.9 128.0 L1089.5 132.0 L1090.3 136.0 L1089.4 140.0 L1089.0 144.0 L1089.4 148.0 L1090.3 152.0 L1091.0 156.0 L1089.4 160.0 L1089.1 164.0 L1090.2 168.0 L1091.0 172.0 L1089.7 176.0 L1091.3 180.0 L1089.4 184.0 L1091.5 188.0 L1090.9 192.0 L1089.0 196.0 L1091.0 200.0 L1090.5 204.0 L1090.6 208.0 L1090.3 212.0 L1091.0 216.0 L1090.3 220.0 L1090.9 224.0 L1091.6 228.0 L1091.8 232.0 L1091.5 236.0 L1091.2 240.0 L1090.8 244.0 L1090.1 248.0 L1089.2 252.0 L1091.0 256.0 L1089.7 260.0 L1089.2 264.0 L1086.0 268.0 L1085.7 272.0 L1084.7 276.0 L1084.1 280.0 L1086.6 284.0 L1087.4 288.0 L1090.1 292.0 L1091.8 296.0 L1091.4 300.0 L1092.8 304.0 L1091.6 308.0 L1090.5 312.0 L1091.3 316.0 L1090.5 320.0 L1090.0 324.0 L1088.9 328.0 L1091.8 332.0 L1088.0 336.0 L1088.7 340.0 L1088.2 344.0 L1089.1 348.0 L1088.1 352.0 L1087.9 356.0 L1085.5 360.0 L1088.7 364.0 L1092.2 368.0 L1093.0 372.0 L1092.4 376.0 L1092.9 380.0 L1091.5 384.0 L1091.3 388.0 L1090.9 392.0 L1089.1 396.0 L1090.0 400.0 L1091.2 404.0 L1089.8 408.0 L1089.8 412.0 L1089.5 416.0 L1090.3 420.0 L1090.5 424.0 L1089.2 428.0 L1089.2 432.0 L1088.7 436.0 L1083.9 440.0 L1084.4 444.0 L1085.0 448.0 L1084.5 452.0 L1085.6 456.0 L1086.8 460.0 L1088.7 464.0 L1087.2 468.0 L1088.0 472.0 L1088.3 476.0 L1088.4 480.0 L1090.4 484.0 L1089.1 488.0 L1088.1 492.0 L1089.6 496.0 L1090.2 500.0 L1088.9 504.0 L1090.3 508.0 L1089.8 512.0 L1089.4 516.0 L1090.0 520.0" stroke="#bbb9b7" stroke-width="3" stroke-linejoin="round"/>
</g>
<g fill="#c4c2c0" fill-opacity="0.45" filter="url(#soft)"><circle cx="809.6" cy="387.0" r="2.6"/><circle cx="936.8" cy="381.7" r="2.6"/><circle cx="997.7" cy="379.0" r="2.6"/><circle cx="1241.0" cy="262.8" r="2.6"/><circle cx="1307.5" cy="451.0" r="2.6"/><circle cx="1304.7" cy="401.0" r="2.6"/><circle cx="1401.6" cy="387.0" r="2.6"/><circle cx="1116.6" cy="334.7" r="2.6"/><circle cx="1116.6" cy="8.3" r="2.6"/><circle cx="1230.0" cy="5.5" r="2.6"/><circle cx="1396.0" cy="55.0" r="2.6"/><circle cx="1322.6" cy="476.0" r="2.6"/><circle cx="1070.0" cy="67.0" r="2.6"/><circle cx="1100.0" cy="96.0" r="2.6"/></g>
<rect x="732.5" y="15" width="45.5" height="39" fill="#fff"/>
<text x="740" y="46.5" font-size="42" font-weight="bold" fill="#000">C</text>
<text x="838" y="146" font-size="38.8" fill="#fafafa" stroke="#fafafa" stroke-width="0.7">Graphene</text>
<path d="M925.2 168.3 L1058 254.5" stroke="#f6f6f6" stroke-width="2.8" stroke-linecap="round"/>
<path d="M1067.5 260.8 L1053.3 259.2 L1059.9 249.3 Z" fill="#f6f6f6"/>
<text x="837" y="314" font-size="48" fill="#fafafa" stroke="#fafafa" stroke-width="0.7">D</text>
<text x="1247" y="314" font-size="47.5" fill="#fafafa" stroke="#fafafa" stroke-width="0.7">S</text>
<text x="722" y="515.5" font-size="22" fill="#e8e8e8" textLength="463" lengthAdjust="spacingAndGlyphs" stroke="#e8e8e8" stroke-width="0.25">S4800 3.0kV 7.9mm x4.00k SE(M) 9/6/2016 09:11</text>
<text x="1341" y="515.5" font-size="22" fill="#e8e8e8" textLength="67.5" lengthAdjust="spacingAndGlyphs" stroke="#e8e8e8" stroke-width="0.25">10.0um</text>
<g fill="#e8e8e8"><rect x="1180.5" y="489.5" width="2.4" height="7"/><rect x="1202.6" y="489.5" width="2.4" height="7"/><rect x="1224.7" y="489.5" width="2.4" height="7"/><rect x="1246.7" y="489.5" width="2.4" height="7"/><rect x="1268.8" y="489.5" width="2.4" height="7"/><rect x="1290.9" y="489.5" width="2.4" height="7"/><rect x="1313.0" y="489.5" width="2.4" height="7"/><rect x="1335.1" y="489.5" width="2.4" height="7"/><rect x="1357.1" y="489.5" width="2.4" height="7"/><rect x="1379.2" y="489.5" width="2.4" height="7"/><rect x="1401.3" y="489.5" width="2.4" height="7"/></g>
</g>

<!-- ===== AFM ===== -->
<g clip-path="url(#afmclip)"><rect x="707" y="524" width="719" height="436" fill="#b44b1c" filter="url(#afm)"/></g>
<path d="M1048 537V950" stroke="#fff" stroke-width="5" stroke-dasharray="38 13.4"/>
<rect x="733.5" y="545" width="45" height="39" fill="#fff"/>
<text x="740.5" y="577.5" font-size="43" font-weight="bold" fill="#000">D</text>
<text x="810.5" y="759" font-size="38" fill="#fff" textLength="215" lengthAdjust="spacingAndGlyphs" stroke="#fff" stroke-width="0.7">RMS:1.8 nm</text>
<text x="1083.5" y="759" font-size="38" fill="#fff" textLength="217" lengthAdjust="spacingAndGlyphs" stroke="#fff" stroke-width="0.7">RMS:1.6 nm</text>
<text x="736" y="935" font-size="39" fill="#fff" stroke="#fff" stroke-width="0.7">Si<tspan dy="8" font-size="26">3</tspan><tspan dy="-8">N</tspan><tspan dy="8" font-size="26">4</tspan></text>
<text x="1067" y="934.5" font-size="38" fill="#fff" textLength="174" lengthAdjust="spacingAndGlyphs" stroke="#fff" stroke-width="0.7">Graphene</text>
<rect x="1293" y="914" width="111" height="12.5" fill="#fff"/>
</svg>
</body></html>
